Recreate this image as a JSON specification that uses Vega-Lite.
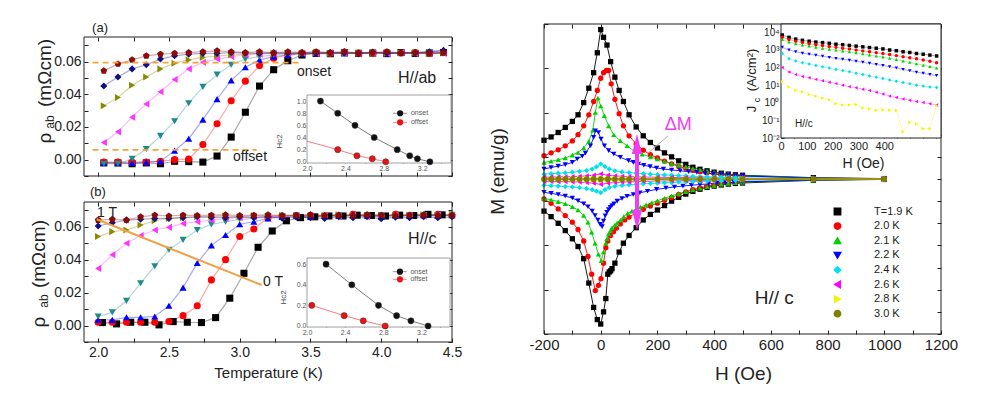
{
"$schema":"https://vega.github.io/schema/vega-lite/v6.json",
"width":983,"height":403,"padding":0,"autosize":{"type":"none"},"background":"white",
"config":{"view":{"stroke":null},"font":"Liberation Sans",
"axis":{"grid":false,"domain":false,"labelFont":"Liberation Sans","titleFont":"Liberation Sans","labelColor":"#222","titleColor":"#222","tickColor":"#222","titleFontWeight":"normal","tickSize":-4,"labelPadding":7,"labelFlush":false,"labelOverlap":false,"labelBound":false,"titleBaseline":"middle"},
"text":{"font":"Liberation Sans","color":"#222"}},
"datasets":{
"rt":[
{"p":"a","s":"1","T":2.04,"r":-0.002},{"p":"a","s":"1","T":2.14,"r":-0.002},{"p":"a","s":"1","T":2.24,"r":-0.0025},{"p":"a","s":"1","T":2.34,"r":-0.002},{"p":"a","s":"1","T":2.44,"r":-0.0025},{"p":"a","s":"1","T":2.54,"r":-0.001},{"p":"a","s":"1","T":2.64,"r":-0.0012},{"p":"a","s":"1","T":2.74,"r":-0.0015},{"p":"a","s":"1","T":2.84,"r":0.0022},{"p":"a","s":"1","T":2.94,"r":0.0138},{"p":"a","s":"1","T":3.04,"r":0.029},{"p":"a","s":"1","T":3.14,"r":0.045},{"p":"a","s":"1","T":3.24,"r":0.055},{"p":"a","s":"1","T":3.34,"r":0.0605},{"p":"a","s":"1","T":3.44,"r":0.064},{"p":"a","s":"1","T":3.54,"r":0.065},{"p":"a","s":"1","T":3.64,"r":0.0648},{"p":"a","s":"1","T":3.74,"r":0.0655},{"p":"a","s":"1","T":3.84,"r":0.065},{"p":"a","s":"1","T":3.94,"r":0.0652},{"p":"a","s":"1","T":4.04,"r":0.0648},{"p":"a","s":"1","T":4.14,"r":0.0655},{"p":"a","s":"1","T":4.24,"r":0.065},{"p":"a","s":"1","T":4.34,"r":0.0652},{"p":"a","s":"1","T":4.44,"r":0.0655},
{"p":"a","s":"2","T":2.04,"r":-0.0015},{"p":"a","s":"2","T":2.14,"r":-0.0015},{"p":"a","s":"2","T":2.24,"r":-0.0015},{"p":"a","s":"2","T":2.34,"r":-0.0015},{"p":"a","s":"2","T":2.44,"r":-0.001},{"p":"a","s":"2","T":2.54,"r":0.0},{"p":"a","s":"2","T":2.64,"r":0.0003},{"p":"a","s":"2","T":2.74,"r":0.0092},{"p":"a","s":"2","T":2.84,"r":0.022},{"p":"a","s":"2","T":2.94,"r":0.036},{"p":"a","s":"2","T":3.04,"r":0.048},{"p":"a","s":"2","T":3.14,"r":0.0575},{"p":"a","s":"2","T":3.24,"r":0.062},{"p":"a","s":"2","T":3.34,"r":0.064},{"p":"a","s":"2","T":3.44,"r":0.0652},{"p":"a","s":"2","T":3.54,"r":0.0655},{"p":"a","s":"2","T":3.64,"r":0.065},{"p":"a","s":"2","T":3.74,"r":0.0658},{"p":"a","s":"2","T":3.84,"r":0.0652},{"p":"a","s":"2","T":3.94,"r":0.065},{"p":"a","s":"2","T":4.04,"r":0.0656},{"p":"a","s":"2","T":4.14,"r":0.0652},{"p":"a","s":"2","T":4.24,"r":0.0655},{"p":"a","s":"2","T":4.34,"r":0.065},{"p":"a","s":"2","T":4.44,"r":0.0656},
{"p":"a","s":"3","T":2.04,"r":-0.002},{"p":"a","s":"3","T":2.14,"r":-0.0022},{"p":"a","s":"3","T":2.24,"r":-0.002},{"p":"a","s":"3","T":2.34,"r":-0.0015},{"p":"a","s":"3","T":2.44,"r":-0.001},{"p":"a","s":"3","T":2.54,"r":0.0055},{"p":"a","s":"3","T":2.64,"r":0.0128},{"p":"a","s":"3","T":2.74,"r":0.0245},{"p":"a","s":"3","T":2.84,"r":0.037},{"p":"a","s":"3","T":2.94,"r":0.0485},{"p":"a","s":"3","T":3.04,"r":0.0565},{"p":"a","s":"3","T":3.14,"r":0.061},{"p":"a","s":"3","T":3.24,"r":0.063},{"p":"a","s":"3","T":3.34,"r":0.064},{"p":"a","s":"3","T":3.44,"r":0.0648},{"p":"a","s":"3","T":3.54,"r":0.065},{"p":"a","s":"3","T":3.64,"r":0.0655},{"p":"a","s":"3","T":3.74,"r":0.065},{"p":"a","s":"3","T":3.84,"r":0.0652},{"p":"a","s":"3","T":3.94,"r":0.0658},{"p":"a","s":"3","T":4.04,"r":0.065},{"p":"a","s":"3","T":4.14,"r":0.0655},{"p":"a","s":"3","T":4.24,"r":0.0652},{"p":"a","s":"3","T":4.34,"r":0.066},{"p":"a","s":"3","T":4.44,"r":0.0665},
{"p":"a","s":"4","T":2.04,"r":-0.0025},{"p":"a","s":"4","T":2.14,"r":-0.0025},{"p":"a","s":"4","T":2.24,"r":0.0005},{"p":"a","s":"4","T":2.34,"r":0.0065},{"p":"a","s":"4","T":2.44,"r":0.0145},{"p":"a","s":"4","T":2.54,"r":0.0235},{"p":"a","s":"4","T":2.64,"r":0.0345},{"p":"a","s":"4","T":2.74,"r":0.0445},{"p":"a","s":"4","T":2.84,"r":0.052},{"p":"a","s":"4","T":2.94,"r":0.058},{"p":"a","s":"4","T":3.04,"r":0.0615},{"p":"a","s":"4","T":3.14,"r":0.063},{"p":"a","s":"4","T":3.24,"r":0.064},{"p":"a","s":"4","T":3.34,"r":0.0648},{"p":"a","s":"4","T":3.44,"r":0.065},{"p":"a","s":"4","T":3.54,"r":0.0652},{"p":"a","s":"4","T":3.64,"r":0.065},{"p":"a","s":"4","T":3.74,"r":0.0655},{"p":"a","s":"4","T":3.84,"r":0.065},{"p":"a","s":"4","T":3.94,"r":0.0652},{"p":"a","s":"4","T":4.04,"r":0.0655},{"p":"a","s":"4","T":4.14,"r":0.065},{"p":"a","s":"4","T":4.24,"r":0.0652},{"p":"a","s":"4","T":4.34,"r":0.0655},{"p":"a","s":"4","T":4.44,"r":0.065},
{"p":"a","s":"5","T":2.04,"r":0.0105},{"p":"a","s":"5","T":2.14,"r":0.017},{"p":"a","s":"5","T":2.24,"r":0.026},{"p":"a","s":"5","T":2.34,"r":0.034},{"p":"a","s":"5","T":2.44,"r":0.0415},{"p":"a","s":"5","T":2.54,"r":0.049},{"p":"a","s":"5","T":2.64,"r":0.0555},{"p":"a","s":"5","T":2.74,"r":0.0595},{"p":"a","s":"5","T":2.84,"r":0.0615},{"p":"a","s":"5","T":2.94,"r":0.063},{"p":"a","s":"5","T":3.04,"r":0.064},{"p":"a","s":"5","T":3.14,"r":0.0645},{"p":"a","s":"5","T":3.24,"r":0.065},{"p":"a","s":"5","T":3.34,"r":0.065},{"p":"a","s":"5","T":3.44,"r":0.0652},{"p":"a","s":"5","T":3.54,"r":0.065},{"p":"a","s":"5","T":3.64,"r":0.0655},{"p":"a","s":"5","T":3.74,"r":0.065},{"p":"a","s":"5","T":3.84,"r":0.0648},{"p":"a","s":"5","T":3.94,"r":0.0652},{"p":"a","s":"5","T":4.04,"r":0.065},{"p":"a","s":"5","T":4.14,"r":0.0655},{"p":"a","s":"5","T":4.24,"r":0.065},{"p":"a","s":"5","T":4.34,"r":0.0652},{"p":"a","s":"5","T":4.44,"r":0.065},
{"p":"a","s":"6","T":2.04,"r":0.033},{"p":"a","s":"6","T":2.14,"r":0.038},{"p":"a","s":"6","T":2.24,"r":0.0455},{"p":"a","s":"6","T":2.34,"r":0.0505},{"p":"a","s":"6","T":2.44,"r":0.0555},{"p":"a","s":"6","T":2.54,"r":0.059},{"p":"a","s":"6","T":2.64,"r":0.061},{"p":"a","s":"6","T":2.74,"r":0.0625},{"p":"a","s":"6","T":2.84,"r":0.0635},{"p":"a","s":"6","T":2.94,"r":0.064},{"p":"a","s":"6","T":3.04,"r":0.0645},{"p":"a","s":"6","T":3.14,"r":0.065},{"p":"a","s":"6","T":3.24,"r":0.065},{"p":"a","s":"6","T":3.34,"r":0.0652},{"p":"a","s":"6","T":3.44,"r":0.065},{"p":"a","s":"6","T":3.54,"r":0.0655},{"p":"a","s":"6","T":3.64,"r":0.065},{"p":"a","s":"6","T":3.74,"r":0.0652},{"p":"a","s":"6","T":3.84,"r":0.065},{"p":"a","s":"6","T":3.94,"r":0.0655},{"p":"a","s":"6","T":4.04,"r":0.065},{"p":"a","s":"6","T":4.14,"r":0.0652},{"p":"a","s":"6","T":4.24,"r":0.0655},{"p":"a","s":"6","T":4.34,"r":0.065},{"p":"a","s":"6","T":4.44,"r":0.0652},
{"p":"a","s":"7","T":2.04,"r":0.045},{"p":"a","s":"7","T":2.14,"r":0.0505},{"p":"a","s":"7","T":2.24,"r":0.0555},{"p":"a","s":"7","T":2.34,"r":0.058},{"p":"a","s":"7","T":2.44,"r":0.0615},{"p":"a","s":"7","T":2.54,"r":0.0635},{"p":"a","s":"7","T":2.64,"r":0.0645},{"p":"a","s":"7","T":2.74,"r":0.065},{"p":"a","s":"7","T":2.84,"r":0.065},{"p":"a","s":"7","T":2.94,"r":0.0655},{"p":"a","s":"7","T":3.04,"r":0.0652},{"p":"a","s":"7","T":3.14,"r":0.065},{"p":"a","s":"7","T":3.24,"r":0.0655},{"p":"a","s":"7","T":3.34,"r":0.065},{"p":"a","s":"7","T":3.44,"r":0.0652},{"p":"a","s":"7","T":3.54,"r":0.065},{"p":"a","s":"7","T":3.64,"r":0.0655},{"p":"a","s":"7","T":3.74,"r":0.0652},{"p":"a","s":"7","T":3.84,"r":0.065},{"p":"a","s":"7","T":3.94,"r":0.0658},{"p":"a","s":"7","T":4.04,"r":0.065},{"p":"a","s":"7","T":4.14,"r":0.0652},{"p":"a","s":"7","T":4.24,"r":0.0655},{"p":"a","s":"7","T":4.34,"r":0.066},{"p":"a","s":"7","T":4.44,"r":0.0668},
{"p":"a","s":"8","T":2.04,"r":0.0543},{"p":"a","s":"8","T":2.14,"r":0.0585},{"p":"a","s":"8","T":2.24,"r":0.061},{"p":"a","s":"8","T":2.34,"r":0.0635},{"p":"a","s":"8","T":2.44,"r":0.0645},{"p":"a","s":"8","T":2.54,"r":0.065},{"p":"a","s":"8","T":2.64,"r":0.0655},{"p":"a","s":"8","T":2.74,"r":0.066},{"p":"a","s":"8","T":2.84,"r":0.0665},{"p":"a","s":"8","T":2.94,"r":0.066},{"p":"a","s":"8","T":3.04,"r":0.0655},{"p":"a","s":"8","T":3.14,"r":0.066},{"p":"a","s":"8","T":3.24,"r":0.0652},{"p":"a","s":"8","T":3.34,"r":0.066},{"p":"a","s":"8","T":3.44,"r":0.0655},{"p":"a","s":"8","T":3.54,"r":0.066},{"p":"a","s":"8","T":3.64,"r":0.0655},{"p":"a","s":"8","T":3.74,"r":0.066},{"p":"a","s":"8","T":3.84,"r":0.0652},{"p":"a","s":"8","T":3.94,"r":0.0655},{"p":"a","s":"8","T":4.04,"r":0.066},{"p":"a","s":"8","T":4.14,"r":0.0652},{"p":"a","s":"8","T":4.24,"r":0.0655},{"p":"a","s":"8","T":4.34,"r":0.065},{"p":"a","s":"8","T":4.44,"r":0.0655},
{"p":"b","s":"1","T":2.03,"r":0.0018},{"p":"b","s":"1","T":2.13,"r":0.001},{"p":"b","s":"1","T":2.23,"r":0.002},{"p":"b","s":"1","T":2.33,"r":0.002},{"p":"b","s":"1","T":2.43,"r":0.0004},{"p":"b","s":"1","T":2.53,"r":0.0024},{"p":"b","s":"1","T":2.63,"r":0.002},{"p":"b","s":"1","T":2.73,"r":0.0018},{"p":"b","s":"1","T":2.83,"r":0.0048},{"p":"b","s":"1","T":2.93,"r":0.0166},{"p":"b","s":"1","T":3.03,"r":0.0317},{"p":"b","s":"1","T":3.13,"r":0.0475},{"p":"b","s":"1","T":3.23,"r":0.0574},{"p":"b","s":"1","T":3.33,"r":0.0636},{"p":"b","s":"1","T":3.43,"r":0.0655},{"p":"b","s":"1","T":3.53,"r":0.066},{"p":"b","s":"1","T":3.63,"r":0.0665},{"p":"b","s":"1","T":3.73,"r":0.0665},{"p":"b","s":"1","T":3.83,"r":0.067},{"p":"b","s":"1","T":3.93,"r":0.0668},{"p":"b","s":"1","T":4.03,"r":0.0665},{"p":"b","s":"1","T":4.13,"r":0.067},{"p":"b","s":"1","T":4.23,"r":0.0668},{"p":"b","s":"1","T":4.33,"r":0.0675},{"p":"b","s":"1","T":4.43,"r":0.0672},
{"p":"b","s":"2","T":2.0,"r":0.002},{"p":"b","s":"2","T":2.1,"r":0.002},{"p":"b","s":"2","T":2.2,"r":0.002},{"p":"b","s":"2","T":2.3,"r":0.002},{"p":"b","s":"2","T":2.4,"r":0.002},{"p":"b","s":"2","T":2.5,"r":0.0024},{"p":"b","s":"2","T":2.6,"r":0.006},{"p":"b","s":"2","T":2.7,"r":0.012},{"p":"b","s":"2","T":2.8,"r":0.0277},{"p":"b","s":"2","T":2.9,"r":0.04},{"p":"b","s":"2","T":3.0,"r":0.054},{"p":"b","s":"2","T":3.1,"r":0.0586},{"p":"b","s":"2","T":3.2,"r":0.0655},{"p":"b","s":"2","T":3.3,"r":0.0665},{"p":"b","s":"2","T":3.4,"r":0.0668},{"p":"b","s":"2","T":3.5,"r":0.067},{"p":"b","s":"2","T":3.6,"r":0.0665},{"p":"b","s":"2","T":3.7,"r":0.067},{"p":"b","s":"2","T":3.8,"r":0.0675},{"p":"b","s":"2","T":3.9,"r":0.067},{"p":"b","s":"2","T":4.0,"r":0.0668},{"p":"b","s":"2","T":4.1,"r":0.0675},{"p":"b","s":"2","T":4.2,"r":0.067},{"p":"b","s":"2","T":4.3,"r":0.0668},{"p":"b","s":"2","T":4.4,"r":0.0675},{"p":"b","s":"2","T":4.5,"r":0.067},
{"p":"b","s":"3","T":2.0,"r":0.0034},{"p":"b","s":"3","T":2.1,"r":0.0034},{"p":"b","s":"3","T":2.2,"r":0.005},{"p":"b","s":"3","T":2.3,"r":0.005},{"p":"b","s":"3","T":2.4,"r":0.0055},{"p":"b","s":"3","T":2.5,"r":0.012},{"p":"b","s":"3","T":2.6,"r":0.023},{"p":"b","s":"3","T":2.7,"r":0.038},{"p":"b","s":"3","T":2.8,"r":0.0487},{"p":"b","s":"3","T":2.9,"r":0.055},{"p":"b","s":"3","T":3.0,"r":0.0615},{"p":"b","s":"3","T":3.1,"r":0.063},{"p":"b","s":"3","T":3.2,"r":0.065},{"p":"b","s":"3","T":3.3,"r":0.066},{"p":"b","s":"3","T":3.4,"r":0.0665},{"p":"b","s":"3","T":3.5,"r":0.066},{"p":"b","s":"3","T":3.6,"r":0.0668},{"p":"b","s":"3","T":3.7,"r":0.0665},{"p":"b","s":"3","T":3.8,"r":0.067},{"p":"b","s":"3","T":3.9,"r":0.0665},{"p":"b","s":"3","T":4.0,"r":0.066},{"p":"b","s":"3","T":4.1,"r":0.0668},{"p":"b","s":"3","T":4.2,"r":0.0665},{"p":"b","s":"3","T":4.3,"r":0.067},{"p":"b","s":"3","T":4.4,"r":0.0665},{"p":"b","s":"3","T":4.5,"r":0.067},
{"p":"b","s":"4","T":2.0,"r":0.0055},{"p":"b","s":"4","T":2.1,"r":0.008},{"p":"b","s":"4","T":2.2,"r":0.015},{"p":"b","s":"4","T":2.3,"r":0.0257},{"p":"b","s":"4","T":2.4,"r":0.036},{"p":"b","s":"4","T":2.5,"r":0.046},{"p":"b","s":"4","T":2.6,"r":0.052},{"p":"b","s":"4","T":2.7,"r":0.058},{"p":"b","s":"4","T":2.8,"r":0.0614},{"p":"b","s":"4","T":2.9,"r":0.063},{"p":"b","s":"4","T":3.0,"r":0.0645},{"p":"b","s":"4","T":3.1,"r":0.065},{"p":"b","s":"4","T":3.2,"r":0.066},{"p":"b","s":"4","T":3.3,"r":0.0665},{"p":"b","s":"4","T":3.4,"r":0.0668},{"p":"b","s":"4","T":3.5,"r":0.066},{"p":"b","s":"4","T":3.6,"r":0.0665},{"p":"b","s":"4","T":3.7,"r":0.067},{"p":"b","s":"4","T":3.8,"r":0.0665},{"p":"b","s":"4","T":3.9,"r":0.0668},{"p":"b","s":"4","T":4.0,"r":0.067},{"p":"b","s":"4","T":4.1,"r":0.0665},{"p":"b","s":"4","T":4.2,"r":0.0668},{"p":"b","s":"4","T":4.3,"r":0.067},{"p":"b","s":"4","T":4.4,"r":0.0668},{"p":"b","s":"4","T":4.5,"r":0.0672},
{"p":"b","s":"5","T":2.0,"r":0.0347},{"p":"b","s":"5","T":2.1,"r":0.043},{"p":"b","s":"5","T":2.2,"r":0.05},{"p":"b","s":"5","T":2.3,"r":0.0547},{"p":"b","s":"5","T":2.4,"r":0.058},{"p":"b","s":"5","T":2.5,"r":0.0596},{"p":"b","s":"5","T":2.6,"r":0.062},{"p":"b","s":"5","T":2.7,"r":0.063},{"p":"b","s":"5","T":2.8,"r":0.064},{"p":"b","s":"5","T":2.9,"r":0.065},{"p":"b","s":"5","T":3.0,"r":0.0655},{"p":"b","s":"5","T":3.1,"r":0.066},{"p":"b","s":"5","T":3.2,"r":0.0665},{"p":"b","s":"5","T":3.3,"r":0.066},{"p":"b","s":"5","T":3.4,"r":0.0668},{"p":"b","s":"5","T":3.5,"r":0.0665},{"p":"b","s":"5","T":3.6,"r":0.067},{"p":"b","s":"5","T":3.7,"r":0.0665},{"p":"b","s":"5","T":3.8,"r":0.0668},{"p":"b","s":"5","T":3.9,"r":0.066},{"p":"b","s":"5","T":4.0,"r":0.0665},{"p":"b","s":"5","T":4.1,"r":0.067},{"p":"b","s":"5","T":4.2,"r":0.0668},{"p":"b","s":"5","T":4.3,"r":0.0665},{"p":"b","s":"5","T":4.4,"r":0.067},{"p":"b","s":"5","T":4.5,"r":0.0668},
{"p":"b","s":"6","T":2.0,"r":0.054},{"p":"b","s":"6","T":2.1,"r":0.057},{"p":"b","s":"6","T":2.2,"r":0.058},{"p":"b","s":"6","T":2.3,"r":0.061},{"p":"b","s":"6","T":2.4,"r":0.0636},{"p":"b","s":"6","T":2.5,"r":0.065},{"p":"b","s":"6","T":2.6,"r":0.0655},{"p":"b","s":"6","T":2.7,"r":0.066},{"p":"b","s":"6","T":2.8,"r":0.0662},{"p":"b","s":"6","T":2.9,"r":0.0665},{"p":"b","s":"6","T":3.0,"r":0.066},{"p":"b","s":"6","T":3.1,"r":0.0668},{"p":"b","s":"6","T":3.2,"r":0.0665},{"p":"b","s":"6","T":3.3,"r":0.067},{"p":"b","s":"6","T":3.4,"r":0.0668},{"p":"b","s":"6","T":3.5,"r":0.0665},{"p":"b","s":"6","T":3.6,"r":0.067},{"p":"b","s":"6","T":3.7,"r":0.0672},{"p":"b","s":"6","T":3.8,"r":0.0668},{"p":"b","s":"6","T":3.9,"r":0.067},{"p":"b","s":"6","T":4.0,"r":0.0665},{"p":"b","s":"6","T":4.1,"r":0.0668},{"p":"b","s":"6","T":4.2,"r":0.067},{"p":"b","s":"6","T":4.3,"r":0.0672},{"p":"b","s":"6","T":4.4,"r":0.0668},{"p":"b","s":"6","T":4.5,"r":0.0675},
{"p":"b","s":"7","T":2.0,"r":0.0604},{"p":"b","s":"7","T":2.1,"r":0.0624},{"p":"b","s":"7","T":2.2,"r":0.064},{"p":"b","s":"7","T":2.3,"r":0.0645},{"p":"b","s":"7","T":2.4,"r":0.065},{"p":"b","s":"7","T":2.5,"r":0.065},{"p":"b","s":"7","T":2.6,"r":0.0655},{"p":"b","s":"7","T":2.7,"r":0.066},{"p":"b","s":"7","T":2.8,"r":0.0658},{"p":"b","s":"7","T":2.9,"r":0.0655},{"p":"b","s":"7","T":3.0,"r":0.066},{"p":"b","s":"7","T":3.1,"r":0.0655},{"p":"b","s":"7","T":3.2,"r":0.066},{"p":"b","s":"7","T":3.3,"r":0.0652},{"p":"b","s":"7","T":3.4,"r":0.0658},{"p":"b","s":"7","T":3.5,"r":0.0655},{"p":"b","s":"7","T":3.6,"r":0.065},{"p":"b","s":"7","T":3.7,"r":0.066},{"p":"b","s":"7","T":3.8,"r":0.0655},{"p":"b","s":"7","T":3.9,"r":0.066},{"p":"b","s":"7","T":4.0,"r":0.0648},{"p":"b","s":"7","T":4.1,"r":0.0658},{"p":"b","s":"7","T":4.2,"r":0.0655},{"p":"b","s":"7","T":4.3,"r":0.066},{"p":"b","s":"7","T":4.4,"r":0.0655},{"p":"b","s":"7","T":4.5,"r":0.066},
{"p":"b","s":"8","T":2.0,"r":0.064},{"p":"b","s":"8","T":2.1,"r":0.0645},{"p":"b","s":"8","T":2.2,"r":0.064},{"p":"b","s":"8","T":2.3,"r":0.066},{"p":"b","s":"8","T":2.4,"r":0.067},{"p":"b","s":"8","T":2.5,"r":0.0665},{"p":"b","s":"8","T":2.6,"r":0.067},{"p":"b","s":"8","T":2.7,"r":0.0668},{"p":"b","s":"8","T":2.8,"r":0.067},{"p":"b","s":"8","T":2.9,"r":0.0672},{"p":"b","s":"8","T":3.0,"r":0.0668},{"p":"b","s":"8","T":3.1,"r":0.067},{"p":"b","s":"8","T":3.2,"r":0.0672},{"p":"b","s":"8","T":3.3,"r":0.0668},{"p":"b","s":"8","T":3.4,"r":0.067},{"p":"b","s":"8","T":3.5,"r":0.0672},{"p":"b","s":"8","T":3.6,"r":0.0668},{"p":"b","s":"8","T":3.7,"r":0.067},{"p":"b","s":"8","T":3.8,"r":0.0668},{"p":"b","s":"8","T":3.9,"r":0.0672},{"p":"b","s":"8","T":4.0,"r":0.067},{"p":"b","s":"8","T":4.1,"r":0.0668},{"p":"b","s":"8","T":4.2,"r":0.067},{"p":"b","s":"8","T":4.3,"r":0.0672},{"p":"b","s":"8","T":4.4,"r":0.0668},{"p":"b","s":"8","T":4.5,"r":0.067}
],
"hc":[
{"p":"a","s":"onset","T":2.14,"H":1.0},{"p":"a","s":"onset","T":2.32,"H":0.8},{"p":"a","s":"onset","T":2.5,"H":0.6},{"p":"a","s":"onset","T":2.7,"H":0.4},{"p":"a","s":"onset","T":2.94,"H":0.2},{"p":"a","s":"onset","T":3.07,"H":0.1},{"p":"a","s":"onset","T":3.15,"H":0.05},{"p":"a","s":"onset","T":3.28,"H":0.0},
{"p":"a","s":"offset","T":2.0,"H":0.34,"m":0},{"p":"a","s":"offset","T":2.32,"H":0.2},{"p":"a","s":"offset","T":2.52,"H":0.1},{"p":"a","s":"offset","T":2.68,"H":0.05},{"p":"a","s":"offset","T":2.82,"H":0.0},
{"p":"b","s":"onset","T":2.2,"H":0.6},{"p":"b","s":"onset","T":2.47,"H":0.4},{"p":"b","s":"onset","T":2.75,"H":0.2},{"p":"b","s":"onset","T":2.94,"H":0.1},{"p":"b","s":"onset","T":3.09,"H":0.05},{"p":"b","s":"onset","T":3.27,"H":0.0},
{"p":"b","s":"offset","T":2.05,"H":0.2},{"p":"b","s":"offset","T":2.39,"H":0.1},{"p":"b","s":"offset","T":2.59,"H":0.05},{"p":"b","s":"offset","T":2.82,"H":0.0}
],
"mh":[
{"s":"1.9","b":"u","H":-200,"M":0.175},{"s":"1.9","b":"u","H":-175,"M":0.19},{"s":"1.9","b":"u","H":-150,"M":0.21},{"s":"1.9","b":"u","H":-125,"M":0.233},{"s":"1.9","b":"u","H":-100,"M":0.26},{"s":"1.9","b":"u","H":-80,"M":0.29},{"s":"1.9","b":"u","H":-60,"M":0.345},{"s":"1.9","b":"u","H":-42,"M":0.41},{"s":"1.9","b":"u","H":-25,"M":0.48},{"s":"1.9","b":"u","H":-12,"M":0.57},{"s":"1.9","b":"u","H":0,"M":0.675},{"s":"1.9","b":"u","H":10,"M":0.64},{"s":"1.9","b":"u","H":22,"M":0.605},{"s":"1.9","b":"u","H":35,"M":0.53},{"s":"1.9","b":"u","H":50,"M":0.46},{"s":"1.9","b":"u","H":65,"M":0.4},{"s":"1.9","b":"u","H":80,"M":0.35},{"s":"1.9","b":"u","H":100,"M":0.29},{"s":"1.9","b":"u","H":125,"M":0.235},{"s":"1.9","b":"u","H":150,"M":0.195},{"s":"1.9","b":"u","H":175,"M":0.165},{"s":"1.9","b":"u","H":200,"M":0.14},{"s":"1.9","b":"u","H":225,"M":0.118},{"s":"1.9","b":"u","H":250,"M":0.1},{"s":"1.9","b":"u","H":275,"M":0.082},{"s":"1.9","b":"u","H":300,"M":0.066},{"s":"1.9","b":"u","H":325,"M":0.053},{"s":"1.9","b":"u","H":350,"M":0.044},{"s":"1.9","b":"u","H":375,"M":0.037},{"s":"1.9","b":"u","H":400,"M":0.031},{"s":"1.9","b":"u","H":425,"M":0.026},{"s":"1.9","b":"u","H":450,"M":0.022},{"s":"1.9","b":"u","H":475,"M":0.019},{"s":"1.9","b":"u","H":500,"M":0.017},{"s":"1.9","b":"u","H":750,"M":0.006},{"s":"1.9","b":"u","H":1000,"M":0.002},
{"s":"1.9","b":"l","H":-200,"M":-0.145},{"s":"1.9","b":"l","H":-175,"M":-0.17},{"s":"1.9","b":"l","H":-150,"M":-0.2},{"s":"1.9","b":"l","H":-125,"M":-0.233},{"s":"1.9","b":"l","H":-100,"M":-0.27},{"s":"1.9","b":"l","H":-80,"M":-0.305},{"s":"1.9","b":"l","H":-60,"M":-0.36},{"s":"1.9","b":"l","H":-42,"M":-0.47},{"s":"1.9","b":"l","H":-25,"M":-0.58},{"s":"1.9","b":"l","H":-12,"M":-0.635},{"s":"1.9","b":"l","H":0,"M":-0.655},{"s":"1.9","b":"l","H":10,"M":-0.6},{"s":"1.9","b":"l","H":18,"M":-0.54},{"s":"1.9","b":"l","H":25,"M":-0.43},{"s":"1.9","b":"l","H":30,"M":-0.42},{"s":"1.9","b":"l","H":35,"M":-0.415},{"s":"1.9","b":"l","H":40,"M":-0.405},{"s":"1.9","b":"l","H":50,"M":-0.38},{"s":"1.9","b":"l","H":65,"M":-0.33},{"s":"1.9","b":"l","H":80,"M":-0.29},{"s":"1.9","b":"l","H":100,"M":-0.255},{"s":"1.9","b":"l","H":125,"M":-0.22},{"s":"1.9","b":"l","H":150,"M":-0.185},{"s":"1.9","b":"l","H":175,"M":-0.16},{"s":"1.9","b":"l","H":200,"M":-0.14},{"s":"1.9","b":"l","H":225,"M":-0.12},{"s":"1.9","b":"l","H":250,"M":-0.1},{"s":"1.9","b":"l","H":275,"M":-0.083},{"s":"1.9","b":"l","H":300,"M":-0.068},{"s":"1.9","b":"l","H":325,"M":-0.056},{"s":"1.9","b":"l","H":350,"M":-0.046},{"s":"1.9","b":"l","H":375,"M":-0.038},{"s":"1.9","b":"l","H":400,"M":-0.032},{"s":"1.9","b":"l","H":425,"M":-0.027},{"s":"1.9","b":"l","H":450,"M":-0.023},{"s":"1.9","b":"l","H":475,"M":-0.02},{"s":"1.9","b":"l","H":500,"M":-0.018},{"s":"1.9","b":"l","H":750,"M":-0.006},{"s":"1.9","b":"l","H":1000,"M":-0.002},
{"s":"2.0","b":"u","H":-200,"M":0.105},{"s":"2.0","b":"u","H":-175,"M":0.118},{"s":"2.0","b":"u","H":-150,"M":0.132},{"s":"2.0","b":"u","H":-125,"M":0.15},{"s":"2.0","b":"u","H":-100,"M":0.172},{"s":"2.0","b":"u","H":-80,"M":0.2},{"s":"2.0","b":"u","H":-60,"M":0.24},{"s":"2.0","b":"u","H":-42,"M":0.29},{"s":"2.0","b":"u","H":-25,"M":0.35},{"s":"2.0","b":"u","H":-12,"M":0.4},{"s":"2.0","b":"u","H":0,"M":0.455},{"s":"2.0","b":"u","H":10,"M":0.48},{"s":"2.0","b":"u","H":20,"M":0.49},{"s":"2.0","b":"u","H":28,"M":0.49},{"s":"2.0","b":"u","H":37,"M":0.43},{"s":"2.0","b":"u","H":50,"M":0.36},{"s":"2.0","b":"u","H":65,"M":0.295},{"s":"2.0","b":"u","H":80,"M":0.24},{"s":"2.0","b":"u","H":100,"M":0.195},{"s":"2.0","b":"u","H":125,"M":0.158},{"s":"2.0","b":"u","H":150,"M":0.13},{"s":"2.0","b":"u","H":175,"M":0.11},{"s":"2.0","b":"u","H":200,"M":0.095},{"s":"2.0","b":"u","H":225,"M":0.081},{"s":"2.0","b":"u","H":250,"M":0.068},{"s":"2.0","b":"u","H":275,"M":0.057},{"s":"2.0","b":"u","H":300,"M":0.047},{"s":"2.0","b":"u","H":325,"M":0.039},{"s":"2.0","b":"u","H":350,"M":0.033},{"s":"2.0","b":"u","H":375,"M":0.028},{"s":"2.0","b":"u","H":400,"M":0.024},{"s":"2.0","b":"u","H":425,"M":0.02},{"s":"2.0","b":"u","H":450,"M":0.017},{"s":"2.0","b":"u","H":475,"M":0.015},{"s":"2.0","b":"u","H":500,"M":0.013},{"s":"2.0","b":"u","H":750,"M":0.004},{"s":"2.0","b":"u","H":1000,"M":0.001},
{"s":"2.0","b":"l","H":-200,"M":-0.09},{"s":"2.0","b":"l","H":-175,"M":-0.11},{"s":"2.0","b":"l","H":-150,"M":-0.135},{"s":"2.0","b":"l","H":-125,"M":-0.165},{"s":"2.0","b":"l","H":-100,"M":-0.195},{"s":"2.0","b":"l","H":-80,"M":-0.228},{"s":"2.0","b":"l","H":-60,"M":-0.28},{"s":"2.0","b":"l","H":-45,"M":-0.35},{"s":"2.0","b":"l","H":-32,"M":-0.43},{"s":"2.0","b":"l","H":-19,"M":-0.504},{"s":"2.0","b":"l","H":-8,"M":-0.48},{"s":"2.0","b":"l","H":1,"M":-0.45},{"s":"2.0","b":"l","H":10,"M":-0.38},{"s":"2.0","b":"l","H":18,"M":-0.31},{"s":"2.0","b":"l","H":25,"M":-0.28},{"s":"2.0","b":"l","H":34,"M":-0.256},{"s":"2.0","b":"l","H":45,"M":-0.238},{"s":"2.0","b":"l","H":55,"M":-0.222},{"s":"2.0","b":"l","H":69,"M":-0.203},{"s":"2.0","b":"l","H":85,"M":-0.185},{"s":"2.0","b":"l","H":100,"M":-0.172},{"s":"2.0","b":"l","H":125,"M":-0.152},{"s":"2.0","b":"l","H":150,"M":-0.137},{"s":"2.0","b":"l","H":175,"M":-0.122},{"s":"2.0","b":"l","H":200,"M":-0.109},{"s":"2.0","b":"l","H":225,"M":-0.096},{"s":"2.0","b":"l","H":250,"M":-0.083},{"s":"2.0","b":"l","H":275,"M":-0.07},{"s":"2.0","b":"l","H":300,"M":-0.058},{"s":"2.0","b":"l","H":325,"M":-0.048},{"s":"2.0","b":"l","H":350,"M":-0.04},{"s":"2.0","b":"l","H":375,"M":-0.033},{"s":"2.0","b":"l","H":400,"M":-0.027},{"s":"2.0","b":"l","H":425,"M":-0.022},{"s":"2.0","b":"l","H":450,"M":-0.018},{"s":"2.0","b":"l","H":475,"M":-0.015},{"s":"2.0","b":"l","H":500,"M":-0.013},{"s":"2.0","b":"l","H":750,"M":-0.004},{"s":"2.0","b":"l","H":1000,"M":-0.001},
{"s":"2.1","b":"u","H":-200,"M":0.075},{"s":"2.1","b":"u","H":-175,"M":0.08},{"s":"2.1","b":"u","H":-150,"M":0.087},{"s":"2.1","b":"u","H":-125,"M":0.095},{"s":"2.1","b":"u","H":-100,"M":0.108},{"s":"2.1","b":"u","H":-80,"M":0.12},{"s":"2.1","b":"u","H":-60,"M":0.14},{"s":"2.1","b":"u","H":-42,"M":0.17},{"s":"2.1","b":"u","H":-28,"M":0.22},{"s":"2.1","b":"u","H":-19,"M":0.3},{"s":"2.1","b":"u","H":-10,"M":0.366},{"s":"2.1","b":"u","H":0,"M":0.33},{"s":"2.1","b":"u","H":13,"M":0.286},{"s":"2.1","b":"u","H":28,"M":0.24},{"s":"2.1","b":"u","H":46,"M":0.2},{"s":"2.1","b":"u","H":69,"M":0.173},{"s":"2.1","b":"u","H":93,"M":0.15},{"s":"2.1","b":"u","H":119,"M":0.125},{"s":"2.1","b":"u","H":146,"M":0.112},{"s":"2.1","b":"u","H":175,"M":0.1},{"s":"2.1","b":"u","H":200,"M":0.09},{"s":"2.1","b":"u","H":225,"M":0.08},{"s":"2.1","b":"u","H":250,"M":0.07},{"s":"2.1","b":"u","H":275,"M":0.062},{"s":"2.1","b":"u","H":300,"M":0.055},{"s":"2.1","b":"u","H":325,"M":0.048},{"s":"2.1","b":"u","H":350,"M":0.042},{"s":"2.1","b":"u","H":375,"M":0.036},{"s":"2.1","b":"u","H":400,"M":0.031},{"s":"2.1","b":"u","H":425,"M":0.026},{"s":"2.1","b":"u","H":450,"M":0.022},{"s":"2.1","b":"u","H":475,"M":0.018},{"s":"2.1","b":"u","H":500,"M":0.015},{"s":"2.1","b":"u","H":750,"M":0.005},{"s":"2.1","b":"u","H":1000,"M":0.001},
{"s":"2.1","b":"l","H":-200,"M":-0.088},{"s":"2.1","b":"l","H":-175,"M":-0.094},{"s":"2.1","b":"l","H":-150,"M":-0.102},{"s":"2.1","b":"l","H":-125,"M":-0.112},{"s":"2.1","b":"l","H":-100,"M":-0.125},{"s":"2.1","b":"l","H":-80,"M":-0.14},{"s":"2.1","b":"l","H":-60,"M":-0.165},{"s":"2.1","b":"l","H":-45,"M":-0.195},{"s":"2.1","b":"l","H":-32,"M":-0.24},{"s":"2.1","b":"l","H":-20,"M":-0.29},{"s":"2.1","b":"l","H":-8,"M":-0.34},{"s":"2.1","b":"l","H":2,"M":-0.369},{"s":"2.1","b":"l","H":10,"M":-0.33},{"s":"2.1","b":"l","H":18,"M":-0.29},{"s":"2.1","b":"l","H":22,"M":-0.27},{"s":"2.1","b":"l","H":28,"M":-0.248},{"s":"2.1","b":"l","H":35,"M":-0.232},{"s":"2.1","b":"l","H":40,"M":-0.22},{"s":"2.1","b":"l","H":50,"M":-0.208},{"s":"2.1","b":"l","H":58,"M":-0.198},{"s":"2.1","b":"l","H":70,"M":-0.185},{"s":"2.1","b":"l","H":81,"M":-0.17},{"s":"2.1","b":"l","H":95,"M":-0.155},{"s":"2.1","b":"l","H":110,"M":-0.145},{"s":"2.1","b":"l","H":125,"M":-0.135},{"s":"2.1","b":"l","H":140,"M":-0.127},{"s":"2.1","b":"l","H":160,"M":-0.117},{"s":"2.1","b":"l","H":180,"M":-0.107},{"s":"2.1","b":"l","H":200,"M":-0.098},{"s":"2.1","b":"l","H":225,"M":-0.087},{"s":"2.1","b":"l","H":250,"M":-0.076},{"s":"2.1","b":"l","H":275,"M":-0.066},{"s":"2.1","b":"l","H":300,"M":-0.057},{"s":"2.1","b":"l","H":325,"M":-0.049},{"s":"2.1","b":"l","H":350,"M":-0.042},{"s":"2.1","b":"l","H":375,"M":-0.035},{"s":"2.1","b":"l","H":400,"M":-0.029},{"s":"2.1","b":"l","H":425,"M":-0.024},{"s":"2.1","b":"l","H":450,"M":-0.02},{"s":"2.1","b":"l","H":475,"M":-0.017},{"s":"2.1","b":"l","H":500,"M":-0.014},{"s":"2.1","b":"l","H":750,"M":-0.005},{"s":"2.1","b":"l","H":1000,"M":-0.001},
{"s":"2.2","b":"u","H":-200,"M":0.045},{"s":"2.2","b":"u","H":-175,"M":0.052},{"s":"2.2","b":"u","H":-150,"M":0.058},{"s":"2.2","b":"u","H":-125,"M":0.065},{"s":"2.2","b":"u","H":-100,"M":0.075},{"s":"2.2","b":"u","H":-83,"M":0.09},{"s":"2.2","b":"u","H":-65,"M":0.103},{"s":"2.2","b":"u","H":-54,"M":0.117},{"s":"2.2","b":"u","H":-36,"M":0.15},{"s":"2.2","b":"u","H":-25,"M":0.188},{"s":"2.2","b":"u","H":-19,"M":0.218},{"s":"2.2","b":"u","H":-8,"M":0.21},{"s":"2.2","b":"u","H":1,"M":0.18},{"s":"2.2","b":"u","H":13,"M":0.15},{"s":"2.2","b":"u","H":28,"M":0.128},{"s":"2.2","b":"u","H":46,"M":0.113},{"s":"2.2","b":"u","H":69,"M":0.098},{"s":"2.2","b":"u","H":98,"M":0.083},{"s":"2.2","b":"u","H":115,"M":0.075},{"s":"2.2","b":"u","H":133,"M":0.068},{"s":"2.2","b":"u","H":152,"M":0.062},{"s":"2.2","b":"u","H":174,"M":0.056},{"s":"2.2","b":"u","H":197,"M":0.05},{"s":"2.2","b":"u","H":221,"M":0.045},{"s":"2.2","b":"u","H":250,"M":0.041},{"s":"2.2","b":"u","H":280,"M":0.037},{"s":"2.2","b":"u","H":310,"M":0.033},{"s":"2.2","b":"u","H":339,"M":0.03},{"s":"2.2","b":"u","H":368,"M":0.026},{"s":"2.2","b":"u","H":398,"M":0.023},{"s":"2.2","b":"u","H":425,"M":0.02},{"s":"2.2","b":"u","H":450,"M":0.018},{"s":"2.2","b":"u","H":475,"M":0.016},{"s":"2.2","b":"u","H":500,"M":0.014},{"s":"2.2","b":"u","H":750,"M":0.004},{"s":"2.2","b":"u","H":1000,"M":0.001},
{"s":"2.2","b":"l","H":-200,"M":-0.06},{"s":"2.2","b":"l","H":-175,"M":-0.065},{"s":"2.2","b":"l","H":-150,"M":-0.07},{"s":"2.2","b":"l","H":-125,"M":-0.077},{"s":"2.2","b":"l","H":-100,"M":-0.086},{"s":"2.2","b":"l","H":-80,"M":-0.098},{"s":"2.2","b":"l","H":-60,"M":-0.112},{"s":"2.2","b":"l","H":-45,"M":-0.125},{"s":"2.2","b":"l","H":-30,"M":-0.145},{"s":"2.2","b":"l","H":-20,"M":-0.165},{"s":"2.2","b":"l","H":-10,"M":-0.185},{"s":"2.2","b":"l","H":-2,"M":-0.205},{"s":"2.2","b":"l","H":5,"M":-0.215},{"s":"2.2","b":"l","H":10,"M":-0.19},{"s":"2.2","b":"l","H":16,"M":-0.166},{"s":"2.2","b":"l","H":22,"M":-0.15},{"s":"2.2","b":"l","H":28,"M":-0.138},{"s":"2.2","b":"l","H":34,"M":-0.128},{"s":"2.2","b":"l","H":40,"M":-0.12},{"s":"2.2","b":"l","H":47,"M":-0.112},{"s":"2.2","b":"l","H":58,"M":-0.1},{"s":"2.2","b":"l","H":75,"M":-0.088},{"s":"2.2","b":"l","H":93,"M":-0.078},{"s":"2.2","b":"l","H":115,"M":-0.07},{"s":"2.2","b":"l","H":138,"M":-0.062},{"s":"2.2","b":"l","H":165,"M":-0.055},{"s":"2.2","b":"l","H":197,"M":-0.047},{"s":"2.2","b":"l","H":230,"M":-0.041},{"s":"2.2","b":"l","H":260,"M":-0.036},{"s":"2.2","b":"l","H":290,"M":-0.032},{"s":"2.2","b":"l","H":320,"M":-0.028},{"s":"2.2","b":"l","H":350,"M":-0.025},{"s":"2.2","b":"l","H":380,"M":-0.022},{"s":"2.2","b":"l","H":410,"M":-0.019},{"s":"2.2","b":"l","H":440,"M":-0.017},{"s":"2.2","b":"l","H":470,"M":-0.014},{"s":"2.2","b":"l","H":500,"M":-0.013},{"s":"2.2","b":"l","H":750,"M":-0.004},{"s":"2.2","b":"l","H":1000,"M":-0.001},
{"s":"2.4","b":"u","H":-200,"M":0.022},{"s":"2.4","b":"u","H":-175,"M":0.024},{"s":"2.4","b":"u","H":-150,"M":0.026},{"s":"2.4","b":"u","H":-125,"M":0.028},{"s":"2.4","b":"u","H":-100,"M":0.031},{"s":"2.4","b":"u","H":-75,"M":0.034},{"s":"2.4","b":"u","H":-50,"M":0.038},{"s":"2.4","b":"u","H":-30,"M":0.045},{"s":"2.4","b":"u","H":-15,"M":0.055},{"s":"2.4","b":"u","H":0,"M":0.068},{"s":"2.4","b":"u","H":15,"M":0.056},{"s":"2.4","b":"u","H":30,"M":0.045},{"s":"2.4","b":"u","H":50,"M":0.037},{"s":"2.4","b":"u","H":75,"M":0.032},{"s":"2.4","b":"u","H":100,"M":0.029},{"s":"2.4","b":"u","H":125,"M":0.026},{"s":"2.4","b":"u","H":150,"M":0.024},{"s":"2.4","b":"u","H":175,"M":0.022},{"s":"2.4","b":"u","H":200,"M":0.02},{"s":"2.4","b":"u","H":225,"M":0.018},{"s":"2.4","b":"u","H":250,"M":0.017},{"s":"2.4","b":"u","H":275,"M":0.015},{"s":"2.4","b":"u","H":300,"M":0.014},{"s":"2.4","b":"u","H":325,"M":0.012},{"s":"2.4","b":"u","H":350,"M":0.011},{"s":"2.4","b":"u","H":375,"M":0.01},{"s":"2.4","b":"u","H":400,"M":0.009},{"s":"2.4","b":"u","H":425,"M":0.008},{"s":"2.4","b":"u","H":450,"M":0.007},{"s":"2.4","b":"u","H":475,"M":0.006},{"s":"2.4","b":"u","H":500,"M":0.005},{"s":"2.4","b":"u","H":750,"M":0.002},{"s":"2.4","b":"u","H":1000,"M":0.001},
{"s":"2.4","b":"l","H":-200,"M":-0.028},{"s":"2.4","b":"l","H":-175,"M":-0.03},{"s":"2.4","b":"l","H":-150,"M":-0.032},{"s":"2.4","b":"l","H":-125,"M":-0.034},{"s":"2.4","b":"l","H":-100,"M":-0.036},{"s":"2.4","b":"l","H":-75,"M":-0.039},{"s":"2.4","b":"l","H":-50,"M":-0.043},{"s":"2.4","b":"l","H":-30,"M":-0.048},{"s":"2.4","b":"l","H":-15,"M":-0.055},{"s":"2.4","b":"l","H":0,"M":-0.062},{"s":"2.4","b":"l","H":15,"M":-0.048},{"s":"2.4","b":"l","H":30,"M":-0.038},{"s":"2.4","b":"l","H":50,"M":-0.033},{"s":"2.4","b":"l","H":75,"M":-0.029},{"s":"2.4","b":"l","H":100,"M":-0.026},{"s":"2.4","b":"l","H":125,"M":-0.024},{"s":"2.4","b":"l","H":150,"M":-0.022},{"s":"2.4","b":"l","H":175,"M":-0.02},{"s":"2.4","b":"l","H":200,"M":-0.019},{"s":"2.4","b":"l","H":225,"M":-0.017},{"s":"2.4","b":"l","H":250,"M":-0.016},{"s":"2.4","b":"l","H":275,"M":-0.014},{"s":"2.4","b":"l","H":300,"M":-0.013},{"s":"2.4","b":"l","H":325,"M":-0.012},{"s":"2.4","b":"l","H":350,"M":-0.011},{"s":"2.4","b":"l","H":375,"M":-0.01},{"s":"2.4","b":"l","H":400,"M":-0.009},{"s":"2.4","b":"l","H":425,"M":-0.008},{"s":"2.4","b":"l","H":450,"M":-0.007},{"s":"2.4","b":"l","H":475,"M":-0.006},{"s":"2.4","b":"l","H":500,"M":-0.005},{"s":"2.4","b":"l","H":750,"M":-0.002},{"s":"2.4","b":"l","H":1000,"M":-0.001},
{"s":"2.6","b":"u","H":-200,"M":0.008},{"s":"2.6","b":"u","H":-175,"M":0.009},{"s":"2.6","b":"u","H":-150,"M":0.009},{"s":"2.6","b":"u","H":-125,"M":0.01},{"s":"2.6","b":"u","H":-100,"M":0.011},{"s":"2.6","b":"u","H":-75,"M":0.012},{"s":"2.6","b":"u","H":-50,"M":0.014},{"s":"2.6","b":"u","H":-25,"M":0.017},{"s":"2.6","b":"u","H":0,"M":0.023},{"s":"2.6","b":"u","H":25,"M":0.017},{"s":"2.6","b":"u","H":50,"M":0.014},{"s":"2.6","b":"u","H":75,"M":0.012},{"s":"2.6","b":"u","H":100,"M":0.011},{"s":"2.6","b":"u","H":125,"M":0.01},{"s":"2.6","b":"u","H":150,"M":0.009},{"s":"2.6","b":"u","H":200,"M":0.008},{"s":"2.6","b":"u","H":250,"M":0.007},{"s":"2.6","b":"u","H":300,"M":0.006},{"s":"2.6","b":"u","H":350,"M":0.005},{"s":"2.6","b":"u","H":400,"M":0.004},{"s":"2.6","b":"u","H":450,"M":0.003},{"s":"2.6","b":"u","H":500,"M":0.002},{"s":"2.6","b":"u","H":750,"M":0.001},{"s":"2.6","b":"u","H":1000,"M":0.0},
{"s":"2.6","b":"l","H":-200,"M":-0.011},{"s":"2.6","b":"l","H":-175,"M":-0.011},{"s":"2.6","b":"l","H":-150,"M":-0.012},{"s":"2.6","b":"l","H":-125,"M":-0.012},{"s":"2.6","b":"l","H":-100,"M":-0.013},{"s":"2.6","b":"l","H":-75,"M":-0.014},{"s":"2.6","b":"l","H":-50,"M":-0.016},{"s":"2.6","b":"l","H":-25,"M":-0.019},{"s":"2.6","b":"l","H":0,"M":-0.024},{"s":"2.6","b":"l","H":25,"M":-0.019},{"s":"2.6","b":"l","H":50,"M":-0.016},{"s":"2.6","b":"l","H":75,"M":-0.014},{"s":"2.6","b":"l","H":100,"M":-0.013},{"s":"2.6","b":"l","H":125,"M":-0.012},{"s":"2.6","b":"l","H":150,"M":-0.011},{"s":"2.6","b":"l","H":200,"M":-0.009},{"s":"2.6","b":"l","H":250,"M":-0.008},{"s":"2.6","b":"l","H":300,"M":-0.007},{"s":"2.6","b":"l","H":350,"M":-0.006},{"s":"2.6","b":"l","H":400,"M":-0.005},{"s":"2.6","b":"l","H":450,"M":-0.004},{"s":"2.6","b":"l","H":500,"M":-0.003},{"s":"2.6","b":"l","H":750,"M":-0.001},{"s":"2.6","b":"l","H":1000,"M":0.0},
{"s":"2.8","b":"u","H":-200,"M":0.003},{"s":"2.8","b":"u","H":-175,"M":0.003},{"s":"2.8","b":"u","H":-150,"M":0.003},{"s":"2.8","b":"u","H":-125,"M":0.004},{"s":"2.8","b":"u","H":-100,"M":0.004},{"s":"2.8","b":"u","H":-75,"M":0.004},{"s":"2.8","b":"u","H":-50,"M":0.005},{"s":"2.8","b":"u","H":-25,"M":0.006},{"s":"2.8","b":"u","H":0,"M":0.007},{"s":"2.8","b":"u","H":25,"M":0.006},{"s":"2.8","b":"u","H":50,"M":0.005},{"s":"2.8","b":"u","H":75,"M":0.004},{"s":"2.8","b":"u","H":100,"M":0.004},{"s":"2.8","b":"u","H":125,"M":0.004},{"s":"2.8","b":"u","H":150,"M":0.003},{"s":"2.8","b":"u","H":200,"M":0.003},{"s":"2.8","b":"u","H":250,"M":0.002},{"s":"2.8","b":"u","H":300,"M":0.002},{"s":"2.8","b":"u","H":350,"M":0.002},{"s":"2.8","b":"u","H":400,"M":0.001},{"s":"2.8","b":"u","H":450,"M":0.001},{"s":"2.8","b":"u","H":500,"M":0.001},{"s":"2.8","b":"u","H":750,"M":0.0},{"s":"2.8","b":"u","H":1000,"M":0.0},
{"s":"2.8","b":"l","H":-200,"M":-0.005},{"s":"2.8","b":"l","H":-175,"M":-0.005},{"s":"2.8","b":"l","H":-150,"M":-0.005},{"s":"2.8","b":"l","H":-125,"M":-0.006},{"s":"2.8","b":"l","H":-100,"M":-0.006},{"s":"2.8","b":"l","H":-75,"M":-0.006},{"s":"2.8","b":"l","H":-50,"M":-0.007},{"s":"2.8","b":"l","H":-25,"M":-0.008},{"s":"2.8","b":"l","H":0,"M":-0.009},{"s":"2.8","b":"l","H":25,"M":-0.008},{"s":"2.8","b":"l","H":50,"M":-0.007},{"s":"2.8","b":"l","H":75,"M":-0.006},{"s":"2.8","b":"l","H":100,"M":-0.006},{"s":"2.8","b":"l","H":125,"M":-0.005},{"s":"2.8","b":"l","H":150,"M":-0.005},{"s":"2.8","b":"l","H":200,"M":-0.004},{"s":"2.8","b":"l","H":250,"M":-0.004},{"s":"2.8","b":"l","H":300,"M":-0.003},{"s":"2.8","b":"l","H":350,"M":-0.003},{"s":"2.8","b":"l","H":400,"M":-0.002},{"s":"2.8","b":"l","H":450,"M":-0.002},{"s":"2.8","b":"l","H":500,"M":-0.002},{"s":"2.8","b":"l","H":750,"M":-0.001},{"s":"2.8","b":"l","H":1000,"M":0.0},
{"s":"3.0","b":"u","H":-200,"M":0.001},{"s":"3.0","b":"u","H":-175,"M":0.001},{"s":"3.0","b":"u","H":-150,"M":0.001},{"s":"3.0","b":"u","H":-125,"M":0.001},{"s":"3.0","b":"u","H":-100,"M":0.001},{"s":"3.0","b":"u","H":-75,"M":0.001},{"s":"3.0","b":"u","H":-50,"M":0.001},{"s":"3.0","b":"u","H":-25,"M":0.002},{"s":"3.0","b":"u","H":0,"M":0.002},{"s":"3.0","b":"u","H":25,"M":0.002},{"s":"3.0","b":"u","H":50,"M":0.001},{"s":"3.0","b":"u","H":75,"M":0.001},{"s":"3.0","b":"u","H":100,"M":0.001},{"s":"3.0","b":"u","H":125,"M":0.001},{"s":"3.0","b":"u","H":150,"M":0.001},{"s":"3.0","b":"u","H":200,"M":0.001},{"s":"3.0","b":"u","H":250,"M":0.001},{"s":"3.0","b":"u","H":300,"M":0.001},{"s":"3.0","b":"u","H":350,"M":0.0},{"s":"3.0","b":"u","H":400,"M":0.0},{"s":"3.0","b":"u","H":450,"M":0.0},{"s":"3.0","b":"u","H":500,"M":0.0},{"s":"3.0","b":"u","H":750,"M":0.0},{"s":"3.0","b":"u","H":1000,"M":0.0},
{"s":"3.0","b":"l","H":-200,"M":-0.002},{"s":"3.0","b":"l","H":-175,"M":-0.002},{"s":"3.0","b":"l","H":-150,"M":-0.002},{"s":"3.0","b":"l","H":-125,"M":-0.002},{"s":"3.0","b":"l","H":-100,"M":-0.002},{"s":"3.0","b":"l","H":-75,"M":-0.002},{"s":"3.0","b":"l","H":-50,"M":-0.002},{"s":"3.0","b":"l","H":-25,"M":-0.003},{"s":"3.0","b":"l","H":0,"M":-0.003},{"s":"3.0","b":"l","H":25,"M":-0.003},{"s":"3.0","b":"l","H":50,"M":-0.002},{"s":"3.0","b":"l","H":75,"M":-0.002},{"s":"3.0","b":"l","H":100,"M":-0.002},{"s":"3.0","b":"l","H":125,"M":-0.002},{"s":"3.0","b":"l","H":150,"M":-0.002},{"s":"3.0","b":"l","H":200,"M":-0.002},{"s":"3.0","b":"l","H":250,"M":-0.001},{"s":"3.0","b":"l","H":300,"M":-0.001},{"s":"3.0","b":"l","H":350,"M":-0.001},{"s":"3.0","b":"l","H":400,"M":-0.001},{"s":"3.0","b":"l","H":450,"M":-0.001},{"s":"3.0","b":"l","H":500,"M":-0.001},{"s":"3.0","b":"l","H":750,"M":0.0},{"s":"3.0","b":"l","H":1000,"M":0.0}
],
"jc":[
{"s":"1.9","H":5,"J":7080},{"s":"1.9","H":31,"J":5250},{"s":"1.9","H":57,"J":4170},{"s":"1.9","H":83,"J":3550},{"s":"1.9","H":109,"J":3160},{"s":"1.9","H":135,"J":2820},{"s":"1.9","H":161,"J":2630},{"s":"1.9","H":187,"J":2400},{"s":"1.9","H":213,"J":2140},{"s":"1.9","H":239,"J":2000},{"s":"1.9","H":265,"J":1820},{"s":"1.9","H":291,"J":1660},{"s":"1.9","H":317,"J":1510},{"s":"1.9","H":343,"J":1380},{"s":"1.9","H":369,"J":1260},{"s":"1.9","H":395,"J":1150},{"s":"1.9","H":421,"J":1000},{"s":"1.9","H":447,"J":912},{"s":"1.9","H":473,"J":794},{"s":"1.9","H":499,"J":724},{"s":"1.9","H":525,"J":631},{"s":"1.9","H":551,"J":575},{"s":"1.9","H":577,"J":513},{"s":"1.9","H":603,"J":457},
{"s":"2.0","H":5,"J":5250},{"s":"2.0","H":31,"J":3980},{"s":"2.0","H":57,"J":3160},{"s":"2.0","H":83,"J":2630},{"s":"2.0","H":109,"J":2290},{"s":"2.0","H":135,"J":2000},{"s":"2.0","H":161,"J":1780},{"s":"2.0","H":187,"J":1580},{"s":"2.0","H":213,"J":1410},{"s":"2.0","H":239,"J":1260},{"s":"2.0","H":265,"J":1150},{"s":"2.0","H":291,"J":1000},{"s":"2.0","H":317,"J":891},{"s":"2.0","H":343,"J":794},{"s":"2.0","H":369,"J":708},{"s":"2.0","H":395,"J":631},{"s":"2.0","H":421,"J":550},{"s":"2.0","H":447,"J":479},{"s":"2.0","H":473,"J":417},{"s":"2.0","H":499,"J":363},{"s":"2.0","H":525,"J":316},{"s":"2.0","H":551,"J":269},{"s":"2.0","H":577,"J":229},{"s":"2.0","H":603,"J":191},
{"s":"2.1","H":5,"J":3980},{"s":"2.1","H":31,"J":2820},{"s":"2.1","H":57,"J":2240},{"s":"2.1","H":83,"J":1910},{"s":"2.1","H":109,"J":1660},{"s":"2.1","H":135,"J":1450},{"s":"2.1","H":161,"J":1260},{"s":"2.1","H":187,"J":1120},{"s":"2.1","H":213,"J":1000},{"s":"2.1","H":239,"J":891},{"s":"2.1","H":265,"J":794},{"s":"2.1","H":291,"J":692},{"s":"2.1","H":317,"J":603},{"s":"2.1","H":343,"J":525},{"s":"2.1","H":369,"J":457},{"s":"2.1","H":395,"J":398},{"s":"2.1","H":421,"J":339},{"s":"2.1","H":447,"J":288},{"s":"2.1","H":473,"J":240},{"s":"2.1","H":499,"J":200},{"s":"2.1","H":525,"J":166},{"s":"2.1","H":551,"J":138},{"s":"2.1","H":577,"J":115},{"s":"2.1","H":603,"J":95},
{"s":"2.2","H":5,"J":1410},{"s":"2.2","H":31,"J":1000},{"s":"2.2","H":57,"J":794},{"s":"2.2","H":83,"J":661},{"s":"2.2","H":109,"J":575},{"s":"2.2","H":135,"J":501},{"s":"2.2","H":161,"J":437},{"s":"2.2","H":187,"J":380},{"s":"2.2","H":213,"J":331},{"s":"2.2","H":239,"J":295},{"s":"2.2","H":265,"J":263},{"s":"2.2","H":291,"J":229},{"s":"2.2","H":317,"J":200},{"s":"2.2","H":343,"J":174},{"s":"2.2","H":369,"J":151},{"s":"2.2","H":395,"J":132},{"s":"2.2","H":421,"J":112},{"s":"2.2","H":447,"J":95},{"s":"2.2","H":473,"J":79},{"s":"2.2","H":499,"J":66},{"s":"2.2","H":525,"J":55},{"s":"2.2","H":551,"J":47},{"s":"2.2","H":577,"J":40},{"s":"2.2","H":603,"J":35},
{"s":"2.4","H":5,"J":631},{"s":"2.4","H":31,"J":316},{"s":"2.4","H":57,"J":240},{"s":"2.4","H":83,"J":191},{"s":"2.4","H":109,"J":158},{"s":"2.4","H":135,"J":132},{"s":"2.4","H":161,"J":112},{"s":"2.4","H":187,"J":95},{"s":"2.4","H":213,"J":79},{"s":"2.4","H":239,"J":68},{"s":"2.4","H":265,"J":58},{"s":"2.4","H":291,"J":48},{"s":"2.4","H":317,"J":40},{"s":"2.4","H":343,"J":33},{"s":"2.4","H":369,"J":28},{"s":"2.4","H":395,"J":24},{"s":"2.4","H":421,"J":20},{"s":"2.4","H":447,"J":16.6},{"s":"2.4","H":473,"J":14.1},{"s":"2.4","H":499,"J":12},{"s":"2.4","H":525,"J":10},{"s":"2.4","H":551,"J":8.9},{"s":"2.4","H":577,"J":7.9},{"s":"2.4","H":603,"J":7.4},
{"s":"2.6","H":5,"J":100},{"s":"2.6","H":31,"J":56},{"s":"2.6","H":57,"J":40},{"s":"2.6","H":83,"J":31.6},{"s":"2.6","H":109,"J":26.3},{"s":"2.6","H":135,"J":21.4},{"s":"2.6","H":161,"J":17.8},{"s":"2.6","H":187,"J":14.8},{"s":"2.6","H":213,"J":12.3},{"s":"2.6","H":239,"J":10},{"s":"2.6","H":265,"J":8.3},{"s":"2.6","H":291,"J":7.1},{"s":"2.6","H":317,"J":5.9},{"s":"2.6","H":343,"J":5},{"s":"2.6","H":369,"J":4},{"s":"2.6","H":395,"J":3.16},{"s":"2.6","H":421,"J":2.4},{"s":"2.6","H":447,"J":2},{"s":"2.6","H":473,"J":1.66},{"s":"2.6","H":499,"J":1.41},{"s":"2.6","H":525,"J":1.2},{"s":"2.6","H":551,"J":1.05},{"s":"2.6","H":577,"J":0.89},{"s":"2.6","H":603,"J":0.76},
{"s":"2.8","H":5,"J":15.8},{"s":"2.8","H":31,"J":7.9},{"s":"2.8","H":57,"J":5.2},{"s":"2.8","H":83,"J":4.2},{"s":"2.8","H":109,"J":3.0},{"s":"2.8","H":135,"J":2.4},{"s":"2.8","H":161,"J":1.9},{"s":"2.8","H":187,"J":1.5},{"s":"2.8","H":213,"J":0.89},{"s":"2.8","H":239,"J":0.76},{"s":"2.8","H":265,"J":0.76},{"s":"2.8","H":291,"J":0.79},{"s":"2.8","H":317,"J":0.5},{"s":"2.8","H":343,"J":0.45},{"s":"2.8","H":369,"J":0.38},{"s":"2.8","H":395,"J":0.4},{"s":"2.8","H":421,"J":0.38},{"s":"2.8","H":447,"J":0.37},{"s":"2.8","H":473,"J":0.022},{"s":"2.8","H":499,"J":0.079},{"s":"2.8","H":525,"J":0.063},{"s":"2.8","H":551,"J":0.034},{"s":"2.8","H":577,"J":0.034},{"s":"2.8","H":603,"J":0.71}
]
},
"layer":[
{
"layer":[
{"data":{"name":"rt"},"transform":[{"filter":"datum.p=='a'"}],
"layer":[
{"mark":{"type":"line","strokeWidth":1.2,"opacity":0.35},
"encoding":{
"x":{"field":"T","type":"quantitative","scale":{"domain":[1.9,4.5],"range":[84,452],"nice":false,"zero":false},"axis":{"orient":"bottom","offset":-227,"values":[2,2.25,2.5,2.75,3,3.25,3.5,3.75,4,4.25,4.5],"labels":false,"title":null}},
"y":{"field":"r","type":"quantitative","scale":{"domain":[-0.01,0.075],"range":[176,37],"nice":false,"zero":false},"axis":{"orient":"left","offset":-84,"values":[-0.01,0,0.01,0.02,0.03,0.04,0.05,0.06,0.07],"labelExpr":"round(datum.value*100) % 2 == 0 && datum.value > -0.005 && datum.value < 0.065 ? format(datum.value,'.2f') : ''","labelFontSize":14,"title":null}},
"color":{"field":"s","type":"nominal","scale":{"domain":["1","2","3","4","5","6","7","8","onset","offset"],"range":["#000000","#ff0000","#0000ff","#1f8a8a","#ff33ff","#8a8a00","#101080","#8b0a0a","#111111","#ee1111"]},"legend":null}}},
{"mark":{"type":"point","filled":true,"size":50,"opacity":1},
"encoding":{"x":{"field":"T","type":"quantitative","scale":{"domain":[1.9,4.5],"range":[84,452],"nice":false,"zero":false}},"y":{"field":"r","type":"quantitative","scale":{"domain":[-0.01,0.075],"range":[176,37],"nice":false,"zero":false}},
"color":{"field":"s","type":"nominal","legend":null},
"shape":{"field":"s","type":"nominal","scale":{"domain":["1","2","3","4","5","6","7","8","onset","offset"],"range":["square","circle","triangle-up","triangle-down","triangle-left","triangle-right","diamond","M0,-1L0.951,-0.309L0.588,0.809L-0.588,0.809L-0.951,-0.309Z","circle","circle"]},"legend":null}}},
{"data":{"values":[{}]},"mark":{"type":"rule","color":"#f2a33a","strokeWidth":1.6,"strokeDash":[6,4]},"encoding":{"x":{"datum":1.96,"type":"quantitative","scale":{"domain":[1.9,4.5],"range":[84,452],"nice":false,"zero":false}},"x2":{"datum":3.43},"y":{"datum":0.0593,"type":"quantitative","scale":{"domain":[-0.01,0.075],"range":[176,37],"nice":false,"zero":false}}}},
{"data":{"values":[{}]},"mark":{"type":"rule","color":"#f2a33a","strokeWidth":1.6,"strokeDash":[6,4]},"encoding":{"x":{"datum":1.96,"type":"quantitative","scale":{"domain":[1.9,4.5],"range":[84,452],"nice":false,"zero":false}},"x2":{"datum":3.12},"y":{"datum":0.006,"type":"quantitative","scale":{"domain":[-0.01,0.075],"range":[176,37],"nice":false,"zero":false}}}},
{"data":{"values":[{}]},"mark":{"type":"text","text":"(a)","align":"left","baseline":"middle","fontSize":13},"encoding":{"x":{"datum":1.957,"type":"quantitative","scale":{"domain":[1.9,4.5],"range":[84,452],"nice":false,"zero":false}},"y":{"datum":0.0805,"type":"quantitative","scale":{"domain":[-0.01,0.075],"range":[176,37],"nice":false,"zero":false}}}},
{"data":{"values":[{}]},"mark":{"type":"text","text":"onset","align":"left","baseline":"middle","fontSize":14},"encoding":{"x":{"datum":3.405,"type":"quantitative","scale":{"domain":[1.9,4.5],"range":[84,452],"nice":false,"zero":false}},"y":{"datum":0.0536,"type":"quantitative","scale":{"domain":[-0.01,0.075],"range":[176,37],"nice":false,"zero":false}}}},
{"data":{"values":[{}]},"mark":{"type":"text","text":"offset","align":"left","baseline":"middle","fontSize":14},"encoding":{"x":{"datum":2.953,"type":"quantitative","scale":{"domain":[1.9,4.5],"range":[84,452],"nice":false,"zero":false}},"y":{"datum":0.0016,"type":"quantitative","scale":{"domain":[-0.01,0.075],"range":[176,37],"nice":false,"zero":false}}}},
{"data":{"values":[{}]},"mark":{"type":"text","text":"H//ab","align":"left","baseline":"middle","fontSize":16},"encoding":{"x":{"datum":4.118,"type":"quantitative","scale":{"domain":[1.9,4.5],"range":[84,452],"nice":false,"zero":false}},"y":{"datum":0.0499,"type":"quantitative","scale":{"domain":[-0.01,0.075],"range":[176,37],"nice":false,"zero":false}}}},
{"data":{"values":[{}]},"mark":{"type":"text","text":"(mΩcm)","angle":270,"align":"center","baseline":"middle","fontSize":19},"encoding":{"x":{"datum":1.6245,"type":"quantitative","scale":{"domain":[1.9,4.5],"range":[84,452],"nice":false,"zero":false}},"y":{"datum":0.053,"type":"quantitative","scale":{"domain":[-0.01,0.075],"range":[176,37],"nice":false,"zero":false}}}},
{"data":{"values":[{}]},"mark":{"type":"text","text":"ab","angle":270,"align":"center","baseline":"middle","fontSize":12},"encoding":{"x":{"datum":1.6598,"type":"quantitative","scale":{"domain":[1.9,4.5],"range":[84,452],"nice":false,"zero":false}},"y":{"datum":0.023,"type":"quantitative","scale":{"domain":[-0.01,0.075],"range":[176,37],"nice":false,"zero":false}}}},
{"data":{"values":[{}]},"mark":{"type":"text","text":"ρ","angle":270,"align":"center","baseline":"middle","fontSize":19},"encoding":{"x":{"datum":1.6245,"type":"quantitative","scale":{"domain":[1.9,4.5],"range":[84,452],"nice":false,"zero":false}},"y":{"datum":0.0132,"type":"quantitative","scale":{"domain":[-0.01,0.075],"range":[176,37],"nice":false,"zero":false}}}}
]},
{"data":{"values":[{}]},"mark":{"type":"rect","fill":"transparent","stroke":"#222","strokeWidth":1},
"encoding":{"x":{"datum":1.9,"type":"quantitative","scale":{"domain":[1.9,4.5],"range":[84,452],"nice":false,"zero":false},"axis":{"orient":"top","offset":-37,"values":[2,2.25,2.5,2.75,3,3.25,3.5,3.75,4,4.25,4.5],"labels":false,"title":null}},"x2":{"datum":4.5},
"y":{"datum":-0.01,"type":"quantitative","scale":{"domain":[-0.01,0.075],"range":[176,37],"nice":false,"zero":false},"axis":{"orient":"right","offset":-531,"values":[-0.01,0,0.01,0.02,0.03,0.04,0.05,0.06,0.07],"labels":false,"title":null}},"y2":{"datum":0.075}}},
{"data":{"name":"hc"},"transform":[{"filter":"datum.p=='a'"}],
"layer":[
{"data":{"values":[{}]},"mark":{"type":"rect","fill":"white","stroke":"#888","strokeWidth":0.8},
"encoding":{"x":{"datum":2.0,"type":"quantitative","scale":{"domain":[2,3.5],"range":[307,451],"nice":false,"zero":false},"axis":{"orient":"bottom","offset":-240,"values":[2,2.2,2.4,2.6,2.8,3,3.2,3.4],"labelExpr":"round(datum.value*5) % 2 == 0 ? format(datum.value,'.1f') : ''","labelFontSize":7,"labelColor":"#555","tickColor":"#777","tickSize":-2,"labelPadding":3,"title":null}},"x2":{"datum":3.5},
"y":{"datum":-0.02,"type":"quantitative","scale":{"domain":[-0.02,1.1],"range":[163,95],"nice":false,"zero":false},"axis":{"orient":"left","offset":-307,"values":[0,0.1,0.2,0.3,0.4,0.5,0.6,0.7,0.8,0.9,1.0],"labelExpr":"round(datum.value*10) % 2 == 0 ? format(datum.value,'.1f') : ''","labelFontSize":7,"labelColor":"#555","tickColor":"#777","tickSize":-2,"labelPadding":3,"title":"Hc2","titleFontSize":8,"titleColor":"#444","titleBaseline":"middle","titleX":-28,"titleY":141}},"y2":{"datum":1.1}}},
{"mark":{"type":"line","strokeWidth":1,"opacity":0.55},"encoding":{"x":{"field":"T","type":"quantitative","scale":{"domain":[2,3.5],"range":[307,451],"nice":false,"zero":false}},"y":{"field":"H","type":"quantitative","scale":{"domain":[-0.02,1.1],"range":[163,95],"nice":false,"zero":false}},"color":{"field":"s","type":"nominal","legend":null}}},
{"transform":[{"filter":"datum.m !== 0"}],"mark":{"type":"point","filled":true,"size":38,"opacity":1,"stroke":"#333","strokeWidth":0.5},"encoding":{"x":{"field":"T","type":"quantitative","scale":{"domain":[2,3.5],"range":[307,451],"nice":false,"zero":false}},"y":{"field":"H","type":"quantitative","scale":{"domain":[-0.02,1.1],"range":[163,95],"nice":false,"zero":false}},"color":{"field":"s","type":"nominal","legend":null}}},
{"data":{"values":[{}]},"mark":{"type":"rule","color":"#777","strokeWidth":0.8},"encoding":{"x":{"datum":2.896,"type":"quantitative","scale":{"domain":[2,3.5],"range":[307,451],"nice":false,"zero":false}},"x2":{"datum":3.042},"y":{"datum":0.799,"type":"quantitative","scale":{"domain":[-0.02,1.1],"range":[163,95],"nice":false,"zero":false}}}},
{"data":{"values":[{}]},"mark":{"type":"rule","color":"#ee6666","strokeWidth":0.8},"encoding":{"x":{"datum":2.896,"type":"quantitative","scale":{"domain":[2,3.5],"range":[307,451],"nice":false,"zero":false}},"x2":{"datum":3.042},"y":{"datum":0.65,"type":"quantitative","scale":{"domain":[-0.02,1.1],"range":[163,95],"nice":false,"zero":false}}}},
{"data":{"values":[{}]},"mark":{"type":"point","filled":true,"size":38,"color":"#111","opacity":1},"encoding":{"x":{"datum":2.97,"type":"quantitative","scale":{"domain":[2,3.5],"range":[307,451],"nice":false,"zero":false}},"y":{"datum":0.799,"type":"quantitative","scale":{"domain":[-0.02,1.1],"range":[163,95],"nice":false,"zero":false}}}},
{"data":{"values":[{}]},"mark":{"type":"point","filled":true,"size":38,"color":"#ee1111","opacity":1},"encoding":{"x":{"datum":2.97,"type":"quantitative","scale":{"domain":[2,3.5],"range":[307,451],"nice":false,"zero":false}},"y":{"datum":0.65,"type":"quantitative","scale":{"domain":[-0.02,1.1],"range":[163,95],"nice":false,"zero":false}}}},
{"data":{"values":[{}]},"mark":{"type":"text","text":"onset","align":"left","baseline":"middle","fontSize":7,"color":"#555"},"encoding":{"x":{"datum":3.083,"type":"quantitative","scale":{"domain":[2,3.5],"range":[307,451],"nice":false,"zero":false}},"y":{"datum":0.799,"type":"quantitative","scale":{"domain":[-0.02,1.1],"range":[163,95],"nice":false,"zero":false}}}},
{"data":{"values":[{}]},"mark":{"type":"text","text":"offset","align":"left","baseline":"middle","fontSize":7,"color":"#555"},"encoding":{"x":{"datum":3.083,"type":"quantitative","scale":{"domain":[2,3.5],"range":[307,451],"nice":false,"zero":false}},"y":{"datum":0.65,"type":"quantitative","scale":{"domain":[-0.02,1.1],"range":[163,95],"nice":false,"zero":false}}}}
]}
],
"resolve":{"scale":{"x":"independent","y":"independent"}}
},
{
"layer":[
{"data":{"name":"rt"},"transform":[{"filter":"datum.p=='b'"}],
"layer":[
{"mark":{"type":"line","strokeWidth":1.2,"opacity":0.35},
"encoding":{
"x":{"field":"T","type":"quantitative","scale":{"domain":[1.9,4.5],"range":[84,452],"nice":false,"zero":false},"axis":{"orient":"bottom","offset":-61,"values":[2,2.25,2.5,2.75,3,3.25,3.5,3.75,4,4.25,4.5],"labelExpr":"round(datum.value*4) % 2 == 0 ? format(datum.value,'.1f') : ''","labelFontSize":14,"title":"Temperature (K)","titleFontSize":15,"titleBaseline":"middle","titleX":268,"titleY":30}},
"y":{"field":"r","type":"quantitative","scale":{"domain":[-0.01,0.075],"range":[342,202],"nice":false,"zero":false},"axis":{"orient":"left","offset":-84,"values":[-0.01,0,0.01,0.02,0.03,0.04,0.05,0.06,0.07],"labelExpr":"round(datum.value*100) % 2 == 0 && datum.value > -0.005 && datum.value < 0.065 ? format(datum.value,'.2f') : ''","labelFontSize":14,"title":null}},
"color":{"field":"s","type":"nominal","scale":{"domain":["1","2","3","4","5","6","7","8","onset","offset"],"range":["#000000","#ff0000","#0000ff","#1f8a8a","#ff33ff","#8a8a00","#101080","#8b0a0a","#111111","#ee1111"]},"legend":null}}},
{"mark":{"type":"point","filled":true,"size":50,"opacity":1},
"encoding":{"x":{"field":"T","type":"quantitative","scale":{"domain":[1.9,4.5],"range":[84,452],"nice":false,"zero":false}},"y":{"field":"r","type":"quantitative","scale":{"domain":[-0.01,0.075],"range":[342,202],"nice":false,"zero":false}},
"color":{"field":"s","type":"nominal","legend":null},
"shape":{"field":"s","type":"nominal","scale":{"domain":["1","2","3","4","5","6","7","8","onset","offset"],"range":["square","circle","triangle-up","triangle-down","triangle-left","triangle-right","diamond","M0,-1L0.951,-0.309L0.588,0.809L-0.588,0.809L-0.951,-0.309Z","circle","circle"]},"legend":null}}},
{"data":{"values":[{}]},"mark":{"type":"rule","color":"#f0a040","strokeWidth":2},"encoding":{"x":{"datum":1.99,"type":"quantitative","scale":{"domain":[1.9,4.5],"range":[84,452],"nice":false,"zero":false}},"x2":{"datum":3.155},"y":{"datum":0.0645,"type":"quantitative","scale":{"domain":[-0.01,0.075],"range":[342,202],"nice":false,"zero":false}},"y2":{"datum":0.0246}}},
{"data":{"values":[{}]},"mark":{"type":"text","text":"(b)","align":"left","baseline":"middle","fontSize":13},"encoding":{"x":{"datum":1.942,"type":"quantitative","scale":{"domain":[1.9,4.5],"range":[84,452],"nice":false,"zero":false}},"y":{"datum":0.081,"type":"quantitative","scale":{"domain":[-0.01,0.075],"range":[342,202],"nice":false,"zero":false}}}},
{"data":{"values":[{}]},"mark":{"type":"text","text":"1 T","align":"left","baseline":"middle","fontSize":14},"encoding":{"x":{"datum":1.992,"type":"quantitative","scale":{"domain":[1.9,4.5],"range":[84,452],"nice":false,"zero":false}},"y":{"datum":0.0683,"type":"quantitative","scale":{"domain":[-0.01,0.075],"range":[342,202],"nice":false,"zero":false}}}},
{"data":{"values":[{}]},"mark":{"type":"text","text":"0 T","align":"left","baseline":"middle","fontSize":14},"encoding":{"x":{"datum":3.165,"type":"quantitative","scale":{"domain":[1.9,4.5],"range":[84,452],"nice":false,"zero":false}},"y":{"datum":0.0264,"type":"quantitative","scale":{"domain":[-0.01,0.075],"range":[342,202],"nice":false,"zero":false}}}},
{"data":{"values":[{}]},"mark":{"type":"text","text":"H//c","align":"left","baseline":"middle","fontSize":16},"encoding":{"x":{"datum":4.19,"type":"quantitative","scale":{"domain":[1.9,4.5],"range":[84,452],"nice":false,"zero":false}},"y":{"datum":0.0525,"type":"quantitative","scale":{"domain":[-0.01,0.075],"range":[342,202],"nice":false,"zero":false}}}},
{"data":{"values":[{}]},"mark":{"type":"text","text":"(mΩcm)","angle":270,"align":"center","baseline":"middle","fontSize":19},"encoding":{"x":{"datum":1.582,"type":"quantitative","scale":{"domain":[1.9,4.5],"range":[84,452],"nice":false,"zero":false}},"y":{"datum":0.0434,"type":"quantitative","scale":{"domain":[-0.01,0.075],"range":[342,202],"nice":false,"zero":false}}}},
{"data":{"values":[{}]},"mark":{"type":"text","text":"ab","angle":270,"align":"center","baseline":"middle","fontSize":12},"encoding":{"x":{"datum":1.6174,"type":"quantitative","scale":{"domain":[1.9,4.5],"range":[84,452],"nice":false,"zero":false}},"y":{"datum":0.0149,"type":"quantitative","scale":{"domain":[-0.01,0.075],"range":[342,202],"nice":false,"zero":false}}}},
{"data":{"values":[{}]},"mark":{"type":"text","text":"ρ","angle":270,"align":"center","baseline":"middle","fontSize":19},"encoding":{"x":{"datum":1.582,"type":"quantitative","scale":{"domain":[1.9,4.5],"range":[84,452],"nice":false,"zero":false}},"y":{"datum":0.0021,"type":"quantitative","scale":{"domain":[-0.01,0.075],"range":[342,202],"nice":false,"zero":false}}}}
]},
{"data":{"values":[{}]},"mark":{"type":"rect","fill":"transparent","stroke":"#222","strokeWidth":1},
"encoding":{"x":{"datum":1.9,"type":"quantitative","scale":{"domain":[1.9,4.5],"range":[84,452],"nice":false,"zero":false},"axis":{"orient":"top","offset":-202,"values":[2,2.25,2.5,2.75,3,3.25,3.5,3.75,4,4.25,4.5],"labels":false,"title":null}},"x2":{"datum":4.5},
"y":{"datum":-0.01,"type":"quantitative","scale":{"domain":[-0.01,0.075],"range":[342,202],"nice":false,"zero":false},"axis":{"orient":"right","offset":-531,"values":[-0.01,0,0.01,0.02,0.03,0.04,0.05,0.06,0.07],"labels":false,"title":null}},"y2":{"datum":0.075}}},
{"data":{"name":"hc"},"transform":[{"filter":"datum.p=='b'"}],
"layer":[
{"data":{"values":[{}]},"mark":{"type":"rect","fill":"white","stroke":"#888","strokeWidth":0.8},
"encoding":{"x":{"datum":2.0,"type":"quantitative","scale":{"domain":[2,3.5],"range":[307,450],"nice":false,"zero":false},"axis":{"orient":"bottom","offset":-76,"values":[2,2.2,2.4,2.6,2.8,3,3.2,3.4],"labelExpr":"round(datum.value*5) % 2 == 0 ? format(datum.value,'.1f') : ''","labelFontSize":7,"labelColor":"#555","tickColor":"#777","tickSize":-2,"labelPadding":3,"title":null}},"x2":{"datum":3.5},
"y":{"datum":-0.01,"type":"quantitative","scale":{"domain":[-0.01,0.66],"range":[327,258],"nice":false,"zero":false},"axis":{"orient":"left","offset":-307,"values":[0,0.1,0.2,0.3,0.4,0.5,0.6],"labelExpr":"round(datum.value*10) % 2 == 0 ? format(datum.value,'.1f') : ''","labelFontSize":7,"labelColor":"#555","tickColor":"#777","tickSize":-2,"labelPadding":3,"title":"Hc2","titleFontSize":8,"titleColor":"#444","titleBaseline":"middle","titleX":-24,"titleY":297}},"y2":{"datum":0.66}}},
{"mark":{"type":"line","strokeWidth":1,"opacity":0.55},"encoding":{"x":{"field":"T","type":"quantitative","scale":{"domain":[2,3.5],"range":[307,450],"nice":false,"zero":false}},"y":{"field":"H","type":"quantitative","scale":{"domain":[-0.01,0.66],"range":[327,258],"nice":false,"zero":false}},"color":{"field":"s","type":"nominal","legend":null}}},
{"mark":{"type":"point","filled":true,"size":38,"opacity":1,"stroke":"#333","strokeWidth":0.5},"encoding":{"x":{"field":"T","type":"quantitative","scale":{"domain":[2,3.5],"range":[307,450],"nice":false,"zero":false}},"y":{"field":"H","type":"quantitative","scale":{"domain":[-0.01,0.66],"range":[327,258],"nice":false,"zero":false}},"color":{"field":"s","type":"nominal","legend":null}}},
{"data":{"values":[{}]},"mark":{"type":"rule","color":"#777","strokeWidth":0.8},"encoding":{"x":{"datum":2.9,"type":"quantitative","scale":{"domain":[2,3.5],"range":[307,450],"nice":false,"zero":false}},"x2":{"datum":3.045},"y":{"datum":0.527,"type":"quantitative","scale":{"domain":[-0.01,0.66],"range":[327,258],"nice":false,"zero":false}}}},
{"data":{"values":[{}]},"mark":{"type":"rule","color":"#ee6666","strokeWidth":0.8},"encoding":{"x":{"datum":2.9,"type":"quantitative","scale":{"domain":[2,3.5],"range":[307,450],"nice":false,"zero":false}},"x2":{"datum":3.045},"y":{"datum":0.453,"type":"quantitative","scale":{"domain":[-0.01,0.66],"range":[327,258],"nice":false,"zero":false}}}},
{"data":{"values":[{}]},"mark":{"type":"point","filled":true,"size":38,"color":"#111","opacity":1},"encoding":{"x":{"datum":2.975,"type":"quantitative","scale":{"domain":[2,3.5],"range":[307,450],"nice":false,"zero":false}},"y":{"datum":0.527,"type":"quantitative","scale":{"domain":[-0.01,0.66],"range":[327,258],"nice":false,"zero":false}}}},
{"data":{"values":[{}]},"mark":{"type":"point","filled":true,"size":38,"color":"#ee1111","opacity":1},"encoding":{"x":{"datum":2.975,"type":"quantitative","scale":{"domain":[2,3.5],"range":[307,450],"nice":false,"zero":false}},"y":{"datum":0.453,"type":"quantitative","scale":{"domain":[-0.01,0.66],"range":[327,258],"nice":false,"zero":false}}}},
{"data":{"values":[{}]},"mark":{"type":"text","text":"onset","align":"left","baseline":"middle","fontSize":7,"color":"#555"},"encoding":{"x":{"datum":3.085,"type":"quantitative","scale":{"domain":[2,3.5],"range":[307,450],"nice":false,"zero":false}},"y":{"datum":0.527,"type":"quantitative","scale":{"domain":[-0.01,0.66],"range":[327,258],"nice":false,"zero":false}}}},
{"data":{"values":[{}]},"mark":{"type":"text","text":"offset","align":"left","baseline":"middle","fontSize":7,"color":"#555"},"encoding":{"x":{"datum":3.085,"type":"quantitative","scale":{"domain":[2,3.5],"range":[307,450],"nice":false,"zero":false}},"y":{"datum":0.453,"type":"quantitative","scale":{"domain":[-0.01,0.66],"range":[327,258],"nice":false,"zero":false}}}}
]}
],
"resolve":{"scale":{"x":"independent","y":"independent"}}
},
{
"layer":[
{"data":{"name":"mh"},
"layer":[
{"mark":{"type":"line","strokeWidth":0.9},
"encoding":{
"x":{"field":"H","type":"quantitative","scale":{"domain":[-200,1200],"range":[544,941],"nice":false,"zero":false},"axis":{"orient":"bottom","offset":-69,"values":[-200,-100,0,100,200,300,400,500,600,700,800,900,1000,1100,1200],"labelExpr":"datum.value % 200 == 0 ? '' + datum.value : ''","labelFontSize":15,"title":"H (Oe)","titleFontSize":19,"titleBaseline":"middle","titleX":743,"titleY":39}},
"y":{"field":"M","type":"quantitative","scale":{"domain":[-0.7,0.7],"range":[334,24],"nice":false,"zero":false},"axis":{"orient":"left","offset":-544,"values":[-0.7,-0.6,-0.5,-0.4,-0.3,-0.2,-0.1,0,0.1,0.2,0.3,0.4,0.5,0.6,0.7],"labelExpr":"abs(round(datum.value*10)) % 2 == 0 && abs(datum.value) < 0.65 ? replace(format(datum.value,'.1f'),'−','-') : ''","labelFontSize":15,"title":"M (emu/g)","titleFontSize":19,"titleBaseline":"middle","titleX":-47,"titleY":171}},
"color":{"field":"s","type":"nominal","scale":{"domain":["1.9","2.0","2.1","2.2","2.4","2.6","2.8","3.0"],"range":["#000000","#ff0000","#00d000","#0000ff","#00e0e8","#ff00ff","#f2f200","#808000"]}},
"detail":{"field":"b"}}},
{"mark":{"type":"point","filled":true,"size":28,"opacity":1},
"encoding":{"x":{"field":"H","type":"quantitative","scale":{"domain":[-200,1200],"range":[544,941],"nice":false,"zero":false}},"y":{"field":"M","type":"quantitative","scale":{"domain":[-0.7,0.7],"range":[334,24],"nice":false,"zero":false}},
"color":{"field":"s","type":"nominal","scale":{"domain":["1.9","2.0","2.1","2.2","2.4","2.6","2.8","3.0"],"range":["#000000","#ff0000","#00d000","#0000ff","#00e0e8","#ff00ff","#f2f200","#808000"]},"legend":{"orient":"none","legendX":832,"legendY":206,"title":null,"labelExpr":"datum.label == '1.9' ? 'T=1.9 K' : datum.label + ' K'","labelFontSize":11,"labelFont":"Liberation Sans","labelColor":"#222","symbolSize":40,"rowPadding":1.6,"labelOffset":31}},
"shape":{"field":"s","type":"nominal","scale":{"domain":["1.9","2.0","2.1","2.2","2.4","2.6","2.8","3.0"],"range":["square","circle","triangle-up","triangle-down","diamond","triangle-left","triangle-right","circle"]},"legend":{"orient":"none","legendX":832,"legendY":206,"title":null,"labelExpr":"datum.label == '1.9' ? 'T=1.9 K' : datum.label + ' K'","labelFontSize":11,"labelFont":"Liberation Sans","labelColor":"#222","symbolSize":40,"rowPadding":1.6,"labelOffset":31}}}},
{"data":{"values":[{}]},"mark":{"type":"rule","color":"#ee3fee","strokeWidth":4},"encoding":{"x":{"datum":128,"type":"quantitative","scale":{"domain":[-200,1200],"range":[544,941],"nice":false,"zero":false}},"y":{"datum":0.15,"type":"quantitative","scale":{"domain":[-0.7,0.7],"range":[334,24],"nice":false,"zero":false}},"y2":{"datum":-0.175}}},
{"data":{"values":[{}]},"mark":{"type":"point","filled":true,"opacity":1,"color":"#ee3fee","size":400,"shape":"M0,-1L0.5,1L-0.5,1Z"},"encoding":{"x":{"datum":128,"type":"quantitative","scale":{"domain":[-200,1200],"range":[544,941],"nice":false,"zero":false}},"y":{"datum":0.158,"type":"quantitative","scale":{"domain":[-0.7,0.7],"range":[334,24],"nice":false,"zero":false}}}},
{"data":{"values":[{}]},"mark":{"type":"point","filled":true,"opacity":1,"color":"#ee3fee","size":400,"shape":"M0,1L0.5,-1L-0.5,-1Z"},"encoding":{"x":{"datum":128,"type":"quantitative","scale":{"domain":[-200,1200],"range":[544,941],"nice":false,"zero":false}},"y":{"datum":-0.185,"type":"quantitative","scale":{"domain":[-0.7,0.7],"range":[334,24],"nice":false,"zero":false}}}},
{"data":{"values":[{}]},"mark":{"type":"rule","color":"#aaa","strokeWidth":1},"encoding":{"x":{"datum":237,"type":"quantitative","scale":{"domain":[-200,1200],"range":[544,941],"nice":false,"zero":false}},"x2":{"datum":167},"y":{"datum":0.194,"type":"quantitative","scale":{"domain":[-0.7,0.7],"range":[334,24],"nice":false,"zero":false}},"y2":{"datum":0.117}}},
{"data":{"values":[{}]},"mark":{"type":"text","text":"ΔM","align":"left","baseline":"middle","fontSize":18,"color":"#ee3fee"},"encoding":{"x":{"datum":226,"type":"quantitative","scale":{"domain":[-200,1200],"range":[544,941],"nice":false,"zero":false}},"y":{"datum":0.244,"type":"quantitative","scale":{"domain":[-0.7,0.7],"range":[334,24],"nice":false,"zero":false}}}},
{"data":{"values":[{}]},"mark":{"type":"text","text":"H// c","align":"left","baseline":"middle","fontSize":19},"encoding":{"x":{"datum":543,"type":"quantitative","scale":{"domain":[-200,1200],"range":[544,941],"nice":false,"zero":false}},"y":{"datum":-0.537,"type":"quantitative","scale":{"domain":[-0.7,0.7],"range":[334,24],"nice":false,"zero":false}}}}
]},
{"data":{"values":[{}]},"mark":{"type":"rect","fill":"transparent","stroke":"#222","strokeWidth":1},
"encoding":{"x":{"datum":-200,"type":"quantitative","scale":{"domain":[-200,1200],"range":[544,941],"nice":false,"zero":false},"axis":{"orient":"top","offset":-24,"values":[-200,-100,0,100,200,300,400,500,600,700,800,900,1000,1100,1200],"labels":false,"title":null}},"x2":{"datum":1200},
"y":{"datum":-0.7,"type":"quantitative","scale":{"domain":[-0.7,0.7],"range":[334,24],"nice":false,"zero":false},"axis":{"orient":"right","offset":-42,"values":[-0.7,-0.6,-0.5,-0.4,-0.3,-0.2,-0.1,0,0.1,0.2,0.3,0.4,0.5,0.6,0.7],"labels":false,"title":null}},"y2":{"datum":0.7}}},
{"data":{"name":"jc"},
"layer":[
{"data":{"values":[{}]},"mark":{"type":"rect","fill":"white","stroke":"#222","strokeWidth":1},
"encoding":{"x":{"datum":0,"type":"quantitative","scale":{"domain":[0,620],"range":[781,941],"nice":false,"zero":false},"axis":{"orient":"bottom","offset":-265,"values":[0,50,100,150,200,250,300,350,400,450,500,550,600],"labelExpr":"datum.value % 100 == 0 && datum.value <= 400 ? '' + datum.value : ''","labelFontSize":11,"tickSize":-3,"labelPadding":5,"title":"H (Oe)","titleFontSize":14,"titleBaseline":"middle","titleX":863,"titleY":25}},"x2":{"datum":620},
"y":{"datum":0.01,"type":"quantitative","scale":{"type":"log","domain":[0.01,30000],"range":[138,24],"nice":false},"axis":{"orient":"left","offset":-781,"values":[0.01,0.1,1,10,100,1000,10000],"labelExpr":"datum.value == 10000 ? '10⁴' : datum.value == 1000 ? '10³' : datum.value == 100 ? '10²' : datum.value == 10 ? '10¹' : datum.value == 1 ? '10⁰' : datum.value == 0.1 ? '10⁻¹' : '10⁻²'","labelFontSize":10,"tickSize":-3,"labelPadding":5,"title":null}},"y2":{"datum":30000}}},
{"mark":{"type":"line","strokeWidth":0.7,"opacity":0.5},"encoding":{"x":{"field":"H","type":"quantitative","scale":{"domain":[0,620],"range":[781,941],"nice":false,"zero":false}},"y":{"field":"J","type":"quantitative","scale":{"type":"log","domain":[0.01,30000],"range":[138,24],"nice":false}},"color":{"field":"s","type":"nominal"}}},
{"mark":{"type":"point","filled":true,"size":12,"opacity":1},"encoding":{"x":{"field":"H","type":"quantitative","scale":{"domain":[0,620],"range":[781,941],"nice":false,"zero":false}},"y":{"field":"J","type":"quantitative","scale":{"type":"log","domain":[0.01,30000],"range":[138,24],"nice":false}},"color":{"field":"s","type":"nominal"},"shape":{"field":"s","type":"nominal"}}},
{"data":{"values":[{}]},"mark":{"type":"text","text":"H//c","align":"left","baseline":"middle","fontSize":10},"encoding":{"x":{"datum":54,"type":"quantitative","scale":{"domain":[0,620],"range":[781,941],"nice":false,"zero":false}},"y":{"datum":0.062,"type":"quantitative","scale":{"type":"log","domain":[0.01,30000],"range":[138,24],"nice":false}}}},
{"data":{"values":[{}]},"mark":{"type":"text","text":"(A/cm²)","angle":270,"align":"center","baseline":"middle","fontSize":13},"encoding":{"x":{"datum":-112,"type":"quantitative","scale":{"domain":[0,620],"range":[781,941],"nice":false,"zero":false}},"y":{"datum":73,"type":"quantitative","scale":{"type":"log","domain":[0.01,30000],"range":[138,24],"nice":false}}}},
{"data":{"values":[{}]},"mark":{"type":"text","text":"c","angle":270,"align":"center","baseline":"middle","fontSize":9},"encoding":{"x":{"datum":-93,"type":"quantitative","scale":{"domain":[0,620],"range":[781,941],"nice":false,"zero":false}},"y":{"datum":1.44,"type":"quantitative","scale":{"type":"log","domain":[0.01,30000],"range":[138,24],"nice":false}}}},
{"data":{"values":[{}]},"mark":{"type":"text","text":"J","angle":270,"align":"center","baseline":"middle","fontSize":13},"encoding":{"x":{"datum":-112,"type":"quantitative","scale":{"domain":[0,620],"range":[781,941],"nice":false,"zero":false}},"y":{"datum":0.445,"type":"quantitative","scale":{"type":"log","domain":[0.01,30000],"range":[138,24],"nice":false}}}}
]}
],
"resolve":{"scale":{"x":"independent","y":"independent"}}
}
],
"resolve":{"scale":{"x":"independent","y":"independent","color":"independent","shape":"independent"}}
}
